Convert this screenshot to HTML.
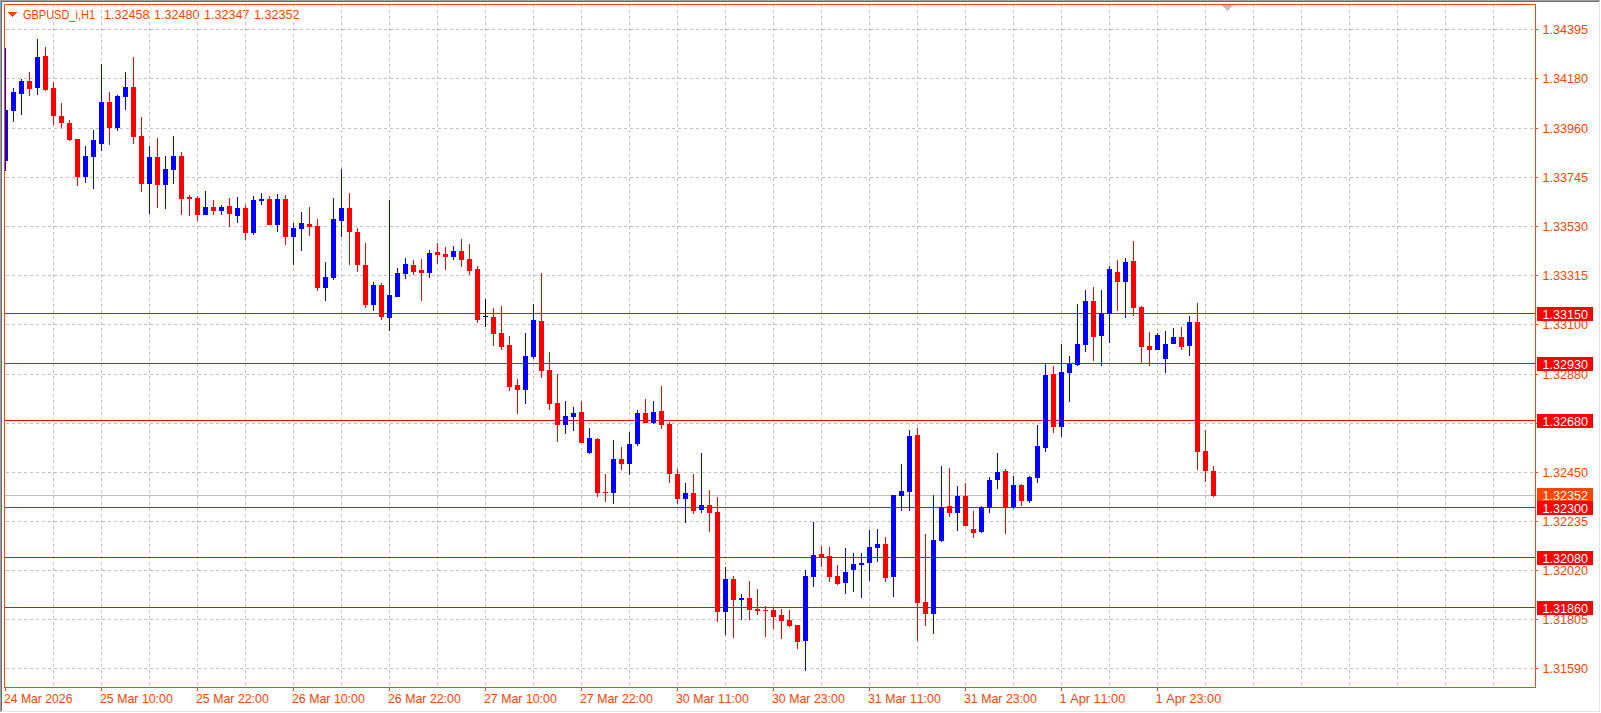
<!DOCTYPE html>
<html><head><meta charset="utf-8"><title>GBPUSD_i,H1</title>
<style>
html,body{margin:0;padding:0;background:#fff;width:1601px;height:713px;overflow:hidden}
svg{display:block}
text{font-family:"Liberation Sans",sans-serif;font-kerning:none}
</style></head><body>
<svg width="1601" height="713" viewBox="0 0 1601 713">
<rect x="0" y="0" width="1601" height="713" fill="#ffffff"/>
<g shape-rendering="crispEdges">
<svg x="5" y="5" width="1530" height="682" viewBox="5 5 1530 682" overflow="hidden">
<path d="M8 12H17L12.5 17Z" fill="#ff4500"/>
<text x="23" y="19" fill="#ff4500" font-size="12.2" textLength="72" lengthAdjust="spacingAndGlyphs">GBPUSD_i,H1</text>
<text x="104" y="19" fill="#ff4500" font-size="12.2" textLength="45.5" lengthAdjust="spacingAndGlyphs">1.32458</text>
<text x="154" y="19" fill="#ff4500" font-size="12.2" textLength="45.5" lengthAdjust="spacingAndGlyphs">1.32480</text>
<text x="204" y="19" fill="#ff4500" font-size="12.2" textLength="45.5" lengthAdjust="spacingAndGlyphs">1.32347</text>
<text x="254" y="19" fill="#ff4500" font-size="12.2" textLength="45.5" lengthAdjust="spacingAndGlyphs">1.32352</text>
<path d="M6 29.5H9M12 29.5H15M18 29.5H21M24 29.5H27M30 29.5H33M36 29.5H39M42 29.5H45M48 29.5H51M54 29.5H57M60 29.5H63M66 29.5H69M72 29.5H75M78 29.5H81M84 29.5H87M90 29.5H93M96 29.5H99M102 29.5H105M108 29.5H111M114 29.5H117M120 29.5H123M126 29.5H129M132 29.5H135M138 29.5H141M144 29.5H147M150 29.5H153M156 29.5H159M162 29.5H165M168 29.5H171M174 29.5H177M180 29.5H183M186 29.5H189M192 29.5H195M198 29.5H201M204 29.5H207M210 29.5H213M216 29.5H219M222 29.5H225M228 29.5H231M234 29.5H237M240 29.5H243M246 29.5H249M252 29.5H255M258 29.5H261M264 29.5H267M270 29.5H273M276 29.5H279M282 29.5H285M288 29.5H291M294 29.5H297M300 29.5H303M306 29.5H309M312 29.5H315M318 29.5H321M324 29.5H327M330 29.5H333M336 29.5H339M342 29.5H345M348 29.5H351M354 29.5H357M360 29.5H363M366 29.5H369M372 29.5H375M378 29.5H381M384 29.5H387M390 29.5H393M396 29.5H399M402 29.5H405M408 29.5H411M414 29.5H417M420 29.5H423M426 29.5H429M432 29.5H435M438 29.5H441M444 29.5H447M450 29.5H453M456 29.5H459M462 29.5H465M468 29.5H471M474 29.5H477M480 29.5H483M486 29.5H489M492 29.5H495M498 29.5H501M504 29.5H507M510 29.5H513M516 29.5H519M522 29.5H525M528 29.5H531M534 29.5H537M540 29.5H543M546 29.5H549M552 29.5H555M558 29.5H561M564 29.5H567M570 29.5H573M576 29.5H579M582 29.5H585M588 29.5H591M594 29.5H597M600 29.5H603M606 29.5H609M612 29.5H615M618 29.5H621M624 29.5H627M630 29.5H633M636 29.5H639M642 29.5H645M648 29.5H651M654 29.5H657M660 29.5H663M666 29.5H669M672 29.5H675M678 29.5H681M684 29.5H687M690 29.5H693M696 29.5H699M702 29.5H705M708 29.5H711M714 29.5H717M720 29.5H723M726 29.5H729M732 29.5H735M738 29.5H741M744 29.5H747M750 29.5H753M756 29.5H759M762 29.5H765M768 29.5H771M774 29.5H777M780 29.5H783M786 29.5H789M792 29.5H795M798 29.5H801M804 29.5H807M810 29.5H813M816 29.5H819M822 29.5H825M828 29.5H831M834 29.5H837M840 29.5H843M846 29.5H849M852 29.5H855M858 29.5H861M864 29.5H867M870 29.5H873M876 29.5H879M882 29.5H885M888 29.5H891M894 29.5H897M900 29.5H903M906 29.5H909M912 29.5H915M918 29.5H921M924 29.5H927M930 29.5H933M936 29.5H939M942 29.5H945M948 29.5H951M954 29.5H957M960 29.5H963M966 29.5H969M972 29.5H975M978 29.5H981M984 29.5H987M990 29.5H993M996 29.5H999M1002 29.5H1005M1008 29.5H1011M1014 29.5H1017M1020 29.5H1023M1026 29.5H1029M1032 29.5H1035M1038 29.5H1041M1044 29.5H1047M1050 29.5H1053M1056 29.5H1059M1062 29.5H1065M1068 29.5H1071M1074 29.5H1077M1080 29.5H1083M1086 29.5H1089M1092 29.5H1095M1098 29.5H1101M1104 29.5H1107M1110 29.5H1113M1116 29.5H1119M1122 29.5H1125M1128 29.5H1131M1134 29.5H1137M1140 29.5H1143M1146 29.5H1149M1152 29.5H1155M1158 29.5H1161M1164 29.5H1167M1170 29.5H1173M1176 29.5H1179M1182 29.5H1185M1188 29.5H1191M1194 29.5H1197M1200 29.5H1203M1206 29.5H1209M1212 29.5H1215M1218 29.5H1221M1224 29.5H1227M1230 29.5H1233M1236 29.5H1239M1242 29.5H1245M1248 29.5H1251M1254 29.5H1257M1260 29.5H1263M1266 29.5H1269M1272 29.5H1275M1278 29.5H1281M1284 29.5H1287M1290 29.5H1293M1296 29.5H1299M1302 29.5H1305M1308 29.5H1311M1314 29.5H1317M1320 29.5H1323M1326 29.5H1329M1332 29.5H1335M1338 29.5H1341M1344 29.5H1347M1350 29.5H1353M1356 29.5H1359M1362 29.5H1365M1368 29.5H1371M1374 29.5H1377M1380 29.5H1383M1386 29.5H1389M1392 29.5H1395M1398 29.5H1401M1404 29.5H1407M1410 29.5H1413M1416 29.5H1419M1422 29.5H1425M1428 29.5H1431M1434 29.5H1437M1440 29.5H1443M1446 29.5H1449M1452 29.5H1455M1458 29.5H1461M1464 29.5H1467M1470 29.5H1473M1476 29.5H1479M1482 29.5H1485M1488 29.5H1491M1494 29.5H1497M1500 29.5H1503M1506 29.5H1509M1512 29.5H1515M1518 29.5H1521M1524 29.5H1527M1530 29.5H1533M6 78.5H9M12 78.5H15M18 78.5H21M24 78.5H27M30 78.5H33M36 78.5H39M42 78.5H45M48 78.5H51M54 78.5H57M60 78.5H63M66 78.5H69M72 78.5H75M78 78.5H81M84 78.5H87M90 78.5H93M96 78.5H99M102 78.5H105M108 78.5H111M114 78.5H117M120 78.5H123M126 78.5H129M132 78.5H135M138 78.5H141M144 78.5H147M150 78.5H153M156 78.5H159M162 78.5H165M168 78.5H171M174 78.5H177M180 78.5H183M186 78.5H189M192 78.5H195M198 78.5H201M204 78.5H207M210 78.5H213M216 78.5H219M222 78.5H225M228 78.5H231M234 78.5H237M240 78.5H243M246 78.5H249M252 78.5H255M258 78.5H261M264 78.5H267M270 78.5H273M276 78.5H279M282 78.5H285M288 78.5H291M294 78.5H297M300 78.5H303M306 78.5H309M312 78.5H315M318 78.5H321M324 78.5H327M330 78.5H333M336 78.5H339M342 78.5H345M348 78.5H351M354 78.5H357M360 78.5H363M366 78.5H369M372 78.5H375M378 78.5H381M384 78.5H387M390 78.5H393M396 78.5H399M402 78.5H405M408 78.5H411M414 78.5H417M420 78.5H423M426 78.5H429M432 78.5H435M438 78.5H441M444 78.5H447M450 78.5H453M456 78.5H459M462 78.5H465M468 78.5H471M474 78.5H477M480 78.5H483M486 78.5H489M492 78.5H495M498 78.5H501M504 78.5H507M510 78.5H513M516 78.5H519M522 78.5H525M528 78.5H531M534 78.5H537M540 78.5H543M546 78.5H549M552 78.5H555M558 78.5H561M564 78.5H567M570 78.5H573M576 78.5H579M582 78.5H585M588 78.5H591M594 78.5H597M600 78.5H603M606 78.5H609M612 78.5H615M618 78.5H621M624 78.5H627M630 78.5H633M636 78.5H639M642 78.5H645M648 78.5H651M654 78.5H657M660 78.5H663M666 78.5H669M672 78.5H675M678 78.5H681M684 78.5H687M690 78.5H693M696 78.5H699M702 78.5H705M708 78.5H711M714 78.5H717M720 78.5H723M726 78.5H729M732 78.5H735M738 78.5H741M744 78.5H747M750 78.5H753M756 78.5H759M762 78.5H765M768 78.5H771M774 78.5H777M780 78.5H783M786 78.5H789M792 78.5H795M798 78.5H801M804 78.5H807M810 78.5H813M816 78.5H819M822 78.5H825M828 78.5H831M834 78.5H837M840 78.5H843M846 78.5H849M852 78.5H855M858 78.5H861M864 78.5H867M870 78.5H873M876 78.5H879M882 78.5H885M888 78.5H891M894 78.5H897M900 78.5H903M906 78.5H909M912 78.5H915M918 78.5H921M924 78.5H927M930 78.5H933M936 78.5H939M942 78.5H945M948 78.5H951M954 78.5H957M960 78.5H963M966 78.5H969M972 78.5H975M978 78.5H981M984 78.5H987M990 78.5H993M996 78.5H999M1002 78.5H1005M1008 78.5H1011M1014 78.5H1017M1020 78.5H1023M1026 78.5H1029M1032 78.5H1035M1038 78.5H1041M1044 78.5H1047M1050 78.5H1053M1056 78.5H1059M1062 78.5H1065M1068 78.5H1071M1074 78.5H1077M1080 78.5H1083M1086 78.5H1089M1092 78.5H1095M1098 78.5H1101M1104 78.5H1107M1110 78.5H1113M1116 78.5H1119M1122 78.5H1125M1128 78.5H1131M1134 78.5H1137M1140 78.5H1143M1146 78.5H1149M1152 78.5H1155M1158 78.5H1161M1164 78.5H1167M1170 78.5H1173M1176 78.5H1179M1182 78.5H1185M1188 78.5H1191M1194 78.5H1197M1200 78.5H1203M1206 78.5H1209M1212 78.5H1215M1218 78.5H1221M1224 78.5H1227M1230 78.5H1233M1236 78.5H1239M1242 78.5H1245M1248 78.5H1251M1254 78.5H1257M1260 78.5H1263M1266 78.5H1269M1272 78.5H1275M1278 78.5H1281M1284 78.5H1287M1290 78.5H1293M1296 78.5H1299M1302 78.5H1305M1308 78.5H1311M1314 78.5H1317M1320 78.5H1323M1326 78.5H1329M1332 78.5H1335M1338 78.5H1341M1344 78.5H1347M1350 78.5H1353M1356 78.5H1359M1362 78.5H1365M1368 78.5H1371M1374 78.5H1377M1380 78.5H1383M1386 78.5H1389M1392 78.5H1395M1398 78.5H1401M1404 78.5H1407M1410 78.5H1413M1416 78.5H1419M1422 78.5H1425M1428 78.5H1431M1434 78.5H1437M1440 78.5H1443M1446 78.5H1449M1452 78.5H1455M1458 78.5H1461M1464 78.5H1467M1470 78.5H1473M1476 78.5H1479M1482 78.5H1485M1488 78.5H1491M1494 78.5H1497M1500 78.5H1503M1506 78.5H1509M1512 78.5H1515M1518 78.5H1521M1524 78.5H1527M1530 78.5H1533M6 128.5H9M12 128.5H15M18 128.5H21M24 128.5H27M30 128.5H33M36 128.5H39M42 128.5H45M48 128.5H51M54 128.5H57M60 128.5H63M66 128.5H69M72 128.5H75M78 128.5H81M84 128.5H87M90 128.5H93M96 128.5H99M102 128.5H105M108 128.5H111M114 128.5H117M120 128.5H123M126 128.5H129M132 128.5H135M138 128.5H141M144 128.5H147M150 128.5H153M156 128.5H159M162 128.5H165M168 128.5H171M174 128.5H177M180 128.5H183M186 128.5H189M192 128.5H195M198 128.5H201M204 128.5H207M210 128.5H213M216 128.5H219M222 128.5H225M228 128.5H231M234 128.5H237M240 128.5H243M246 128.5H249M252 128.5H255M258 128.5H261M264 128.5H267M270 128.5H273M276 128.5H279M282 128.5H285M288 128.5H291M294 128.5H297M300 128.5H303M306 128.5H309M312 128.5H315M318 128.5H321M324 128.5H327M330 128.5H333M336 128.5H339M342 128.5H345M348 128.5H351M354 128.5H357M360 128.5H363M366 128.5H369M372 128.5H375M378 128.5H381M384 128.5H387M390 128.5H393M396 128.5H399M402 128.5H405M408 128.5H411M414 128.5H417M420 128.5H423M426 128.5H429M432 128.5H435M438 128.5H441M444 128.5H447M450 128.5H453M456 128.5H459M462 128.5H465M468 128.5H471M474 128.5H477M480 128.5H483M486 128.5H489M492 128.5H495M498 128.5H501M504 128.5H507M510 128.5H513M516 128.5H519M522 128.5H525M528 128.5H531M534 128.5H537M540 128.5H543M546 128.5H549M552 128.5H555M558 128.5H561M564 128.5H567M570 128.5H573M576 128.5H579M582 128.5H585M588 128.5H591M594 128.5H597M600 128.5H603M606 128.5H609M612 128.5H615M618 128.5H621M624 128.5H627M630 128.5H633M636 128.5H639M642 128.5H645M648 128.5H651M654 128.5H657M660 128.5H663M666 128.5H669M672 128.5H675M678 128.5H681M684 128.5H687M690 128.5H693M696 128.5H699M702 128.5H705M708 128.5H711M714 128.5H717M720 128.5H723M726 128.5H729M732 128.5H735M738 128.5H741M744 128.5H747M750 128.5H753M756 128.5H759M762 128.5H765M768 128.5H771M774 128.5H777M780 128.5H783M786 128.5H789M792 128.5H795M798 128.5H801M804 128.5H807M810 128.5H813M816 128.5H819M822 128.5H825M828 128.5H831M834 128.5H837M840 128.5H843M846 128.5H849M852 128.5H855M858 128.5H861M864 128.5H867M870 128.5H873M876 128.5H879M882 128.5H885M888 128.5H891M894 128.5H897M900 128.5H903M906 128.5H909M912 128.5H915M918 128.5H921M924 128.5H927M930 128.5H933M936 128.5H939M942 128.5H945M948 128.5H951M954 128.5H957M960 128.5H963M966 128.5H969M972 128.5H975M978 128.5H981M984 128.5H987M990 128.5H993M996 128.5H999M1002 128.5H1005M1008 128.5H1011M1014 128.5H1017M1020 128.5H1023M1026 128.5H1029M1032 128.5H1035M1038 128.5H1041M1044 128.5H1047M1050 128.5H1053M1056 128.5H1059M1062 128.5H1065M1068 128.5H1071M1074 128.5H1077M1080 128.5H1083M1086 128.5H1089M1092 128.5H1095M1098 128.5H1101M1104 128.5H1107M1110 128.5H1113M1116 128.5H1119M1122 128.5H1125M1128 128.5H1131M1134 128.5H1137M1140 128.5H1143M1146 128.5H1149M1152 128.5H1155M1158 128.5H1161M1164 128.5H1167M1170 128.5H1173M1176 128.5H1179M1182 128.5H1185M1188 128.5H1191M1194 128.5H1197M1200 128.5H1203M1206 128.5H1209M1212 128.5H1215M1218 128.5H1221M1224 128.5H1227M1230 128.5H1233M1236 128.5H1239M1242 128.5H1245M1248 128.5H1251M1254 128.5H1257M1260 128.5H1263M1266 128.5H1269M1272 128.5H1275M1278 128.5H1281M1284 128.5H1287M1290 128.5H1293M1296 128.5H1299M1302 128.5H1305M1308 128.5H1311M1314 128.5H1317M1320 128.5H1323M1326 128.5H1329M1332 128.5H1335M1338 128.5H1341M1344 128.5H1347M1350 128.5H1353M1356 128.5H1359M1362 128.5H1365M1368 128.5H1371M1374 128.5H1377M1380 128.5H1383M1386 128.5H1389M1392 128.5H1395M1398 128.5H1401M1404 128.5H1407M1410 128.5H1413M1416 128.5H1419M1422 128.5H1425M1428 128.5H1431M1434 128.5H1437M1440 128.5H1443M1446 128.5H1449M1452 128.5H1455M1458 128.5H1461M1464 128.5H1467M1470 128.5H1473M1476 128.5H1479M1482 128.5H1485M1488 128.5H1491M1494 128.5H1497M1500 128.5H1503M1506 128.5H1509M1512 128.5H1515M1518 128.5H1521M1524 128.5H1527M1530 128.5H1533M6 177.5H9M12 177.5H15M18 177.5H21M24 177.5H27M30 177.5H33M36 177.5H39M42 177.5H45M48 177.5H51M54 177.5H57M60 177.5H63M66 177.5H69M72 177.5H75M78 177.5H81M84 177.5H87M90 177.5H93M96 177.5H99M102 177.5H105M108 177.5H111M114 177.5H117M120 177.5H123M126 177.5H129M132 177.5H135M138 177.5H141M144 177.5H147M150 177.5H153M156 177.5H159M162 177.5H165M168 177.5H171M174 177.5H177M180 177.5H183M186 177.5H189M192 177.5H195M198 177.5H201M204 177.5H207M210 177.5H213M216 177.5H219M222 177.5H225M228 177.5H231M234 177.5H237M240 177.5H243M246 177.5H249M252 177.5H255M258 177.5H261M264 177.5H267M270 177.5H273M276 177.5H279M282 177.5H285M288 177.5H291M294 177.5H297M300 177.5H303M306 177.5H309M312 177.5H315M318 177.5H321M324 177.5H327M330 177.5H333M336 177.5H339M342 177.5H345M348 177.5H351M354 177.5H357M360 177.5H363M366 177.5H369M372 177.5H375M378 177.5H381M384 177.5H387M390 177.5H393M396 177.5H399M402 177.5H405M408 177.5H411M414 177.5H417M420 177.5H423M426 177.5H429M432 177.5H435M438 177.5H441M444 177.5H447M450 177.5H453M456 177.5H459M462 177.5H465M468 177.5H471M474 177.5H477M480 177.5H483M486 177.5H489M492 177.5H495M498 177.5H501M504 177.5H507M510 177.5H513M516 177.5H519M522 177.5H525M528 177.5H531M534 177.5H537M540 177.5H543M546 177.5H549M552 177.5H555M558 177.5H561M564 177.5H567M570 177.5H573M576 177.5H579M582 177.5H585M588 177.5H591M594 177.5H597M600 177.5H603M606 177.5H609M612 177.5H615M618 177.5H621M624 177.5H627M630 177.5H633M636 177.5H639M642 177.5H645M648 177.5H651M654 177.5H657M660 177.5H663M666 177.5H669M672 177.5H675M678 177.5H681M684 177.5H687M690 177.5H693M696 177.5H699M702 177.5H705M708 177.5H711M714 177.5H717M720 177.5H723M726 177.5H729M732 177.5H735M738 177.5H741M744 177.5H747M750 177.5H753M756 177.5H759M762 177.5H765M768 177.5H771M774 177.5H777M780 177.5H783M786 177.5H789M792 177.5H795M798 177.5H801M804 177.5H807M810 177.5H813M816 177.5H819M822 177.5H825M828 177.5H831M834 177.5H837M840 177.5H843M846 177.5H849M852 177.5H855M858 177.5H861M864 177.5H867M870 177.5H873M876 177.5H879M882 177.5H885M888 177.5H891M894 177.5H897M900 177.5H903M906 177.5H909M912 177.5H915M918 177.5H921M924 177.5H927M930 177.5H933M936 177.5H939M942 177.5H945M948 177.5H951M954 177.5H957M960 177.5H963M966 177.5H969M972 177.5H975M978 177.5H981M984 177.5H987M990 177.5H993M996 177.5H999M1002 177.5H1005M1008 177.5H1011M1014 177.5H1017M1020 177.5H1023M1026 177.5H1029M1032 177.5H1035M1038 177.5H1041M1044 177.5H1047M1050 177.5H1053M1056 177.5H1059M1062 177.5H1065M1068 177.5H1071M1074 177.5H1077M1080 177.5H1083M1086 177.5H1089M1092 177.5H1095M1098 177.5H1101M1104 177.5H1107M1110 177.5H1113M1116 177.5H1119M1122 177.5H1125M1128 177.5H1131M1134 177.5H1137M1140 177.5H1143M1146 177.5H1149M1152 177.5H1155M1158 177.5H1161M1164 177.5H1167M1170 177.5H1173M1176 177.5H1179M1182 177.5H1185M1188 177.5H1191M1194 177.5H1197M1200 177.5H1203M1206 177.5H1209M1212 177.5H1215M1218 177.5H1221M1224 177.5H1227M1230 177.5H1233M1236 177.5H1239M1242 177.5H1245M1248 177.5H1251M1254 177.5H1257M1260 177.5H1263M1266 177.5H1269M1272 177.5H1275M1278 177.5H1281M1284 177.5H1287M1290 177.5H1293M1296 177.5H1299M1302 177.5H1305M1308 177.5H1311M1314 177.5H1317M1320 177.5H1323M1326 177.5H1329M1332 177.5H1335M1338 177.5H1341M1344 177.5H1347M1350 177.5H1353M1356 177.5H1359M1362 177.5H1365M1368 177.5H1371M1374 177.5H1377M1380 177.5H1383M1386 177.5H1389M1392 177.5H1395M1398 177.5H1401M1404 177.5H1407M1410 177.5H1413M1416 177.5H1419M1422 177.5H1425M1428 177.5H1431M1434 177.5H1437M1440 177.5H1443M1446 177.5H1449M1452 177.5H1455M1458 177.5H1461M1464 177.5H1467M1470 177.5H1473M1476 177.5H1479M1482 177.5H1485M1488 177.5H1491M1494 177.5H1497M1500 177.5H1503M1506 177.5H1509M1512 177.5H1515M1518 177.5H1521M1524 177.5H1527M1530 177.5H1533M6 226.5H9M12 226.5H15M18 226.5H21M24 226.5H27M30 226.5H33M36 226.5H39M42 226.5H45M48 226.5H51M54 226.5H57M60 226.5H63M66 226.5H69M72 226.5H75M78 226.5H81M84 226.5H87M90 226.5H93M96 226.5H99M102 226.5H105M108 226.5H111M114 226.5H117M120 226.5H123M126 226.5H129M132 226.5H135M138 226.5H141M144 226.5H147M150 226.5H153M156 226.5H159M162 226.5H165M168 226.5H171M174 226.5H177M180 226.5H183M186 226.5H189M192 226.5H195M198 226.5H201M204 226.5H207M210 226.5H213M216 226.5H219M222 226.5H225M228 226.5H231M234 226.5H237M240 226.5H243M246 226.5H249M252 226.5H255M258 226.5H261M264 226.5H267M270 226.5H273M276 226.5H279M282 226.5H285M288 226.5H291M294 226.5H297M300 226.5H303M306 226.5H309M312 226.5H315M318 226.5H321M324 226.5H327M330 226.5H333M336 226.5H339M342 226.5H345M348 226.5H351M354 226.5H357M360 226.5H363M366 226.5H369M372 226.5H375M378 226.5H381M384 226.5H387M390 226.5H393M396 226.5H399M402 226.5H405M408 226.5H411M414 226.5H417M420 226.5H423M426 226.5H429M432 226.5H435M438 226.5H441M444 226.5H447M450 226.5H453M456 226.5H459M462 226.5H465M468 226.5H471M474 226.5H477M480 226.5H483M486 226.5H489M492 226.5H495M498 226.5H501M504 226.5H507M510 226.5H513M516 226.5H519M522 226.5H525M528 226.5H531M534 226.5H537M540 226.5H543M546 226.5H549M552 226.5H555M558 226.5H561M564 226.5H567M570 226.5H573M576 226.5H579M582 226.5H585M588 226.5H591M594 226.5H597M600 226.5H603M606 226.5H609M612 226.5H615M618 226.5H621M624 226.5H627M630 226.5H633M636 226.5H639M642 226.5H645M648 226.5H651M654 226.5H657M660 226.5H663M666 226.5H669M672 226.5H675M678 226.5H681M684 226.5H687M690 226.5H693M696 226.5H699M702 226.5H705M708 226.5H711M714 226.5H717M720 226.5H723M726 226.5H729M732 226.5H735M738 226.5H741M744 226.5H747M750 226.5H753M756 226.5H759M762 226.5H765M768 226.5H771M774 226.5H777M780 226.5H783M786 226.5H789M792 226.5H795M798 226.5H801M804 226.5H807M810 226.5H813M816 226.5H819M822 226.5H825M828 226.5H831M834 226.5H837M840 226.5H843M846 226.5H849M852 226.5H855M858 226.5H861M864 226.5H867M870 226.5H873M876 226.5H879M882 226.5H885M888 226.5H891M894 226.5H897M900 226.5H903M906 226.5H909M912 226.5H915M918 226.5H921M924 226.5H927M930 226.5H933M936 226.5H939M942 226.5H945M948 226.5H951M954 226.5H957M960 226.5H963M966 226.5H969M972 226.5H975M978 226.5H981M984 226.5H987M990 226.5H993M996 226.5H999M1002 226.5H1005M1008 226.5H1011M1014 226.5H1017M1020 226.5H1023M1026 226.5H1029M1032 226.5H1035M1038 226.5H1041M1044 226.5H1047M1050 226.5H1053M1056 226.5H1059M1062 226.5H1065M1068 226.5H1071M1074 226.5H1077M1080 226.5H1083M1086 226.5H1089M1092 226.5H1095M1098 226.5H1101M1104 226.5H1107M1110 226.5H1113M1116 226.5H1119M1122 226.5H1125M1128 226.5H1131M1134 226.5H1137M1140 226.5H1143M1146 226.5H1149M1152 226.5H1155M1158 226.5H1161M1164 226.5H1167M1170 226.5H1173M1176 226.5H1179M1182 226.5H1185M1188 226.5H1191M1194 226.5H1197M1200 226.5H1203M1206 226.5H1209M1212 226.5H1215M1218 226.5H1221M1224 226.5H1227M1230 226.5H1233M1236 226.5H1239M1242 226.5H1245M1248 226.5H1251M1254 226.5H1257M1260 226.5H1263M1266 226.5H1269M1272 226.5H1275M1278 226.5H1281M1284 226.5H1287M1290 226.5H1293M1296 226.5H1299M1302 226.5H1305M1308 226.5H1311M1314 226.5H1317M1320 226.5H1323M1326 226.5H1329M1332 226.5H1335M1338 226.5H1341M1344 226.5H1347M1350 226.5H1353M1356 226.5H1359M1362 226.5H1365M1368 226.5H1371M1374 226.5H1377M1380 226.5H1383M1386 226.5H1389M1392 226.5H1395M1398 226.5H1401M1404 226.5H1407M1410 226.5H1413M1416 226.5H1419M1422 226.5H1425M1428 226.5H1431M1434 226.5H1437M1440 226.5H1443M1446 226.5H1449M1452 226.5H1455M1458 226.5H1461M1464 226.5H1467M1470 226.5H1473M1476 226.5H1479M1482 226.5H1485M1488 226.5H1491M1494 226.5H1497M1500 226.5H1503M1506 226.5H1509M1512 226.5H1515M1518 226.5H1521M1524 226.5H1527M1530 226.5H1533M6 275.5H9M12 275.5H15M18 275.5H21M24 275.5H27M30 275.5H33M36 275.5H39M42 275.5H45M48 275.5H51M54 275.5H57M60 275.5H63M66 275.5H69M72 275.5H75M78 275.5H81M84 275.5H87M90 275.5H93M96 275.5H99M102 275.5H105M108 275.5H111M114 275.5H117M120 275.5H123M126 275.5H129M132 275.5H135M138 275.5H141M144 275.5H147M150 275.5H153M156 275.5H159M162 275.5H165M168 275.5H171M174 275.5H177M180 275.5H183M186 275.5H189M192 275.5H195M198 275.5H201M204 275.5H207M210 275.5H213M216 275.5H219M222 275.5H225M228 275.5H231M234 275.5H237M240 275.5H243M246 275.5H249M252 275.5H255M258 275.5H261M264 275.5H267M270 275.5H273M276 275.5H279M282 275.5H285M288 275.5H291M294 275.5H297M300 275.5H303M306 275.5H309M312 275.5H315M318 275.5H321M324 275.5H327M330 275.5H333M336 275.5H339M342 275.5H345M348 275.5H351M354 275.5H357M360 275.5H363M366 275.5H369M372 275.5H375M378 275.5H381M384 275.5H387M390 275.5H393M396 275.5H399M402 275.5H405M408 275.5H411M414 275.5H417M420 275.5H423M426 275.5H429M432 275.5H435M438 275.5H441M444 275.5H447M450 275.5H453M456 275.5H459M462 275.5H465M468 275.5H471M474 275.5H477M480 275.5H483M486 275.5H489M492 275.5H495M498 275.5H501M504 275.5H507M510 275.5H513M516 275.5H519M522 275.5H525M528 275.5H531M534 275.5H537M540 275.5H543M546 275.5H549M552 275.5H555M558 275.5H561M564 275.5H567M570 275.5H573M576 275.5H579M582 275.5H585M588 275.5H591M594 275.5H597M600 275.5H603M606 275.5H609M612 275.5H615M618 275.5H621M624 275.5H627M630 275.5H633M636 275.5H639M642 275.5H645M648 275.5H651M654 275.5H657M660 275.5H663M666 275.5H669M672 275.5H675M678 275.5H681M684 275.5H687M690 275.5H693M696 275.5H699M702 275.5H705M708 275.5H711M714 275.5H717M720 275.5H723M726 275.5H729M732 275.5H735M738 275.5H741M744 275.5H747M750 275.5H753M756 275.5H759M762 275.5H765M768 275.5H771M774 275.5H777M780 275.5H783M786 275.5H789M792 275.5H795M798 275.5H801M804 275.5H807M810 275.5H813M816 275.5H819M822 275.5H825M828 275.5H831M834 275.5H837M840 275.5H843M846 275.5H849M852 275.5H855M858 275.5H861M864 275.5H867M870 275.5H873M876 275.5H879M882 275.5H885M888 275.5H891M894 275.5H897M900 275.5H903M906 275.5H909M912 275.5H915M918 275.5H921M924 275.5H927M930 275.5H933M936 275.5H939M942 275.5H945M948 275.5H951M954 275.5H957M960 275.5H963M966 275.5H969M972 275.5H975M978 275.5H981M984 275.5H987M990 275.5H993M996 275.5H999M1002 275.5H1005M1008 275.5H1011M1014 275.5H1017M1020 275.5H1023M1026 275.5H1029M1032 275.5H1035M1038 275.5H1041M1044 275.5H1047M1050 275.5H1053M1056 275.5H1059M1062 275.5H1065M1068 275.5H1071M1074 275.5H1077M1080 275.5H1083M1086 275.5H1089M1092 275.5H1095M1098 275.5H1101M1104 275.5H1107M1110 275.5H1113M1116 275.5H1119M1122 275.5H1125M1128 275.5H1131M1134 275.5H1137M1140 275.5H1143M1146 275.5H1149M1152 275.5H1155M1158 275.5H1161M1164 275.5H1167M1170 275.5H1173M1176 275.5H1179M1182 275.5H1185M1188 275.5H1191M1194 275.5H1197M1200 275.5H1203M1206 275.5H1209M1212 275.5H1215M1218 275.5H1221M1224 275.5H1227M1230 275.5H1233M1236 275.5H1239M1242 275.5H1245M1248 275.5H1251M1254 275.5H1257M1260 275.5H1263M1266 275.5H1269M1272 275.5H1275M1278 275.5H1281M1284 275.5H1287M1290 275.5H1293M1296 275.5H1299M1302 275.5H1305M1308 275.5H1311M1314 275.5H1317M1320 275.5H1323M1326 275.5H1329M1332 275.5H1335M1338 275.5H1341M1344 275.5H1347M1350 275.5H1353M1356 275.5H1359M1362 275.5H1365M1368 275.5H1371M1374 275.5H1377M1380 275.5H1383M1386 275.5H1389M1392 275.5H1395M1398 275.5H1401M1404 275.5H1407M1410 275.5H1413M1416 275.5H1419M1422 275.5H1425M1428 275.5H1431M1434 275.5H1437M1440 275.5H1443M1446 275.5H1449M1452 275.5H1455M1458 275.5H1461M1464 275.5H1467M1470 275.5H1473M1476 275.5H1479M1482 275.5H1485M1488 275.5H1491M1494 275.5H1497M1500 275.5H1503M1506 275.5H1509M1512 275.5H1515M1518 275.5H1521M1524 275.5H1527M1530 275.5H1533M6 324.5H9M12 324.5H15M18 324.5H21M24 324.5H27M30 324.5H33M36 324.5H39M42 324.5H45M48 324.5H51M54 324.5H57M60 324.5H63M66 324.5H69M72 324.5H75M78 324.5H81M84 324.5H87M90 324.5H93M96 324.5H99M102 324.5H105M108 324.5H111M114 324.5H117M120 324.5H123M126 324.5H129M132 324.5H135M138 324.5H141M144 324.5H147M150 324.5H153M156 324.5H159M162 324.5H165M168 324.5H171M174 324.5H177M180 324.5H183M186 324.5H189M192 324.5H195M198 324.5H201M204 324.5H207M210 324.5H213M216 324.5H219M222 324.5H225M228 324.5H231M234 324.5H237M240 324.5H243M246 324.5H249M252 324.5H255M258 324.5H261M264 324.5H267M270 324.5H273M276 324.5H279M282 324.5H285M288 324.5H291M294 324.5H297M300 324.5H303M306 324.5H309M312 324.5H315M318 324.5H321M324 324.5H327M330 324.5H333M336 324.5H339M342 324.5H345M348 324.5H351M354 324.5H357M360 324.5H363M366 324.5H369M372 324.5H375M378 324.5H381M384 324.5H387M390 324.5H393M396 324.5H399M402 324.5H405M408 324.5H411M414 324.5H417M420 324.5H423M426 324.5H429M432 324.5H435M438 324.5H441M444 324.5H447M450 324.5H453M456 324.5H459M462 324.5H465M468 324.5H471M474 324.5H477M480 324.5H483M486 324.5H489M492 324.5H495M498 324.5H501M504 324.5H507M510 324.5H513M516 324.5H519M522 324.5H525M528 324.5H531M534 324.5H537M540 324.5H543M546 324.5H549M552 324.5H555M558 324.5H561M564 324.5H567M570 324.5H573M576 324.5H579M582 324.5H585M588 324.5H591M594 324.5H597M600 324.5H603M606 324.5H609M612 324.5H615M618 324.5H621M624 324.5H627M630 324.5H633M636 324.5H639M642 324.5H645M648 324.5H651M654 324.5H657M660 324.5H663M666 324.5H669M672 324.5H675M678 324.5H681M684 324.5H687M690 324.5H693M696 324.5H699M702 324.5H705M708 324.5H711M714 324.5H717M720 324.5H723M726 324.5H729M732 324.5H735M738 324.5H741M744 324.5H747M750 324.5H753M756 324.5H759M762 324.5H765M768 324.5H771M774 324.5H777M780 324.5H783M786 324.5H789M792 324.5H795M798 324.5H801M804 324.5H807M810 324.5H813M816 324.5H819M822 324.5H825M828 324.5H831M834 324.5H837M840 324.5H843M846 324.5H849M852 324.5H855M858 324.5H861M864 324.5H867M870 324.5H873M876 324.5H879M882 324.5H885M888 324.5H891M894 324.5H897M900 324.5H903M906 324.5H909M912 324.5H915M918 324.5H921M924 324.5H927M930 324.5H933M936 324.5H939M942 324.5H945M948 324.5H951M954 324.5H957M960 324.5H963M966 324.5H969M972 324.5H975M978 324.5H981M984 324.5H987M990 324.5H993M996 324.5H999M1002 324.5H1005M1008 324.5H1011M1014 324.5H1017M1020 324.5H1023M1026 324.5H1029M1032 324.5H1035M1038 324.5H1041M1044 324.5H1047M1050 324.5H1053M1056 324.5H1059M1062 324.5H1065M1068 324.5H1071M1074 324.5H1077M1080 324.5H1083M1086 324.5H1089M1092 324.5H1095M1098 324.5H1101M1104 324.5H1107M1110 324.5H1113M1116 324.5H1119M1122 324.5H1125M1128 324.5H1131M1134 324.5H1137M1140 324.5H1143M1146 324.5H1149M1152 324.5H1155M1158 324.5H1161M1164 324.5H1167M1170 324.5H1173M1176 324.5H1179M1182 324.5H1185M1188 324.5H1191M1194 324.5H1197M1200 324.5H1203M1206 324.5H1209M1212 324.5H1215M1218 324.5H1221M1224 324.5H1227M1230 324.5H1233M1236 324.5H1239M1242 324.5H1245M1248 324.5H1251M1254 324.5H1257M1260 324.5H1263M1266 324.5H1269M1272 324.5H1275M1278 324.5H1281M1284 324.5H1287M1290 324.5H1293M1296 324.5H1299M1302 324.5H1305M1308 324.5H1311M1314 324.5H1317M1320 324.5H1323M1326 324.5H1329M1332 324.5H1335M1338 324.5H1341M1344 324.5H1347M1350 324.5H1353M1356 324.5H1359M1362 324.5H1365M1368 324.5H1371M1374 324.5H1377M1380 324.5H1383M1386 324.5H1389M1392 324.5H1395M1398 324.5H1401M1404 324.5H1407M1410 324.5H1413M1416 324.5H1419M1422 324.5H1425M1428 324.5H1431M1434 324.5H1437M1440 324.5H1443M1446 324.5H1449M1452 324.5H1455M1458 324.5H1461M1464 324.5H1467M1470 324.5H1473M1476 324.5H1479M1482 324.5H1485M1488 324.5H1491M1494 324.5H1497M1500 324.5H1503M1506 324.5H1509M1512 324.5H1515M1518 324.5H1521M1524 324.5H1527M1530 324.5H1533M6 374.5H9M12 374.5H15M18 374.5H21M24 374.5H27M30 374.5H33M36 374.5H39M42 374.5H45M48 374.5H51M54 374.5H57M60 374.5H63M66 374.5H69M72 374.5H75M78 374.5H81M84 374.5H87M90 374.5H93M96 374.5H99M102 374.5H105M108 374.5H111M114 374.5H117M120 374.5H123M126 374.5H129M132 374.5H135M138 374.5H141M144 374.5H147M150 374.5H153M156 374.5H159M162 374.5H165M168 374.5H171M174 374.5H177M180 374.5H183M186 374.5H189M192 374.5H195M198 374.5H201M204 374.5H207M210 374.5H213M216 374.5H219M222 374.5H225M228 374.5H231M234 374.5H237M240 374.5H243M246 374.5H249M252 374.5H255M258 374.5H261M264 374.5H267M270 374.5H273M276 374.5H279M282 374.5H285M288 374.5H291M294 374.5H297M300 374.5H303M306 374.5H309M312 374.5H315M318 374.5H321M324 374.5H327M330 374.5H333M336 374.5H339M342 374.5H345M348 374.5H351M354 374.5H357M360 374.5H363M366 374.5H369M372 374.5H375M378 374.5H381M384 374.5H387M390 374.5H393M396 374.5H399M402 374.5H405M408 374.5H411M414 374.5H417M420 374.5H423M426 374.5H429M432 374.5H435M438 374.5H441M444 374.5H447M450 374.5H453M456 374.5H459M462 374.5H465M468 374.5H471M474 374.5H477M480 374.5H483M486 374.5H489M492 374.5H495M498 374.5H501M504 374.5H507M510 374.5H513M516 374.5H519M522 374.5H525M528 374.5H531M534 374.5H537M540 374.5H543M546 374.5H549M552 374.5H555M558 374.5H561M564 374.5H567M570 374.5H573M576 374.5H579M582 374.5H585M588 374.5H591M594 374.5H597M600 374.5H603M606 374.5H609M612 374.5H615M618 374.5H621M624 374.5H627M630 374.5H633M636 374.5H639M642 374.5H645M648 374.5H651M654 374.5H657M660 374.5H663M666 374.5H669M672 374.5H675M678 374.5H681M684 374.5H687M690 374.5H693M696 374.5H699M702 374.5H705M708 374.5H711M714 374.5H717M720 374.5H723M726 374.5H729M732 374.5H735M738 374.5H741M744 374.5H747M750 374.5H753M756 374.5H759M762 374.5H765M768 374.5H771M774 374.5H777M780 374.5H783M786 374.5H789M792 374.5H795M798 374.5H801M804 374.5H807M810 374.5H813M816 374.5H819M822 374.5H825M828 374.5H831M834 374.5H837M840 374.5H843M846 374.5H849M852 374.5H855M858 374.5H861M864 374.5H867M870 374.5H873M876 374.5H879M882 374.5H885M888 374.5H891M894 374.5H897M900 374.5H903M906 374.5H909M912 374.5H915M918 374.5H921M924 374.5H927M930 374.5H933M936 374.5H939M942 374.5H945M948 374.5H951M954 374.5H957M960 374.5H963M966 374.5H969M972 374.5H975M978 374.5H981M984 374.5H987M990 374.5H993M996 374.5H999M1002 374.5H1005M1008 374.5H1011M1014 374.5H1017M1020 374.5H1023M1026 374.5H1029M1032 374.5H1035M1038 374.5H1041M1044 374.5H1047M1050 374.5H1053M1056 374.5H1059M1062 374.5H1065M1068 374.5H1071M1074 374.5H1077M1080 374.5H1083M1086 374.5H1089M1092 374.5H1095M1098 374.5H1101M1104 374.5H1107M1110 374.5H1113M1116 374.5H1119M1122 374.5H1125M1128 374.5H1131M1134 374.5H1137M1140 374.5H1143M1146 374.5H1149M1152 374.5H1155M1158 374.5H1161M1164 374.5H1167M1170 374.5H1173M1176 374.5H1179M1182 374.5H1185M1188 374.5H1191M1194 374.5H1197M1200 374.5H1203M1206 374.5H1209M1212 374.5H1215M1218 374.5H1221M1224 374.5H1227M1230 374.5H1233M1236 374.5H1239M1242 374.5H1245M1248 374.5H1251M1254 374.5H1257M1260 374.5H1263M1266 374.5H1269M1272 374.5H1275M1278 374.5H1281M1284 374.5H1287M1290 374.5H1293M1296 374.5H1299M1302 374.5H1305M1308 374.5H1311M1314 374.5H1317M1320 374.5H1323M1326 374.5H1329M1332 374.5H1335M1338 374.5H1341M1344 374.5H1347M1350 374.5H1353M1356 374.5H1359M1362 374.5H1365M1368 374.5H1371M1374 374.5H1377M1380 374.5H1383M1386 374.5H1389M1392 374.5H1395M1398 374.5H1401M1404 374.5H1407M1410 374.5H1413M1416 374.5H1419M1422 374.5H1425M1428 374.5H1431M1434 374.5H1437M1440 374.5H1443M1446 374.5H1449M1452 374.5H1455M1458 374.5H1461M1464 374.5H1467M1470 374.5H1473M1476 374.5H1479M1482 374.5H1485M1488 374.5H1491M1494 374.5H1497M1500 374.5H1503M1506 374.5H1509M1512 374.5H1515M1518 374.5H1521M1524 374.5H1527M1530 374.5H1533M6 423.5H9M12 423.5H15M18 423.5H21M24 423.5H27M30 423.5H33M36 423.5H39M42 423.5H45M48 423.5H51M54 423.5H57M60 423.5H63M66 423.5H69M72 423.5H75M78 423.5H81M84 423.5H87M90 423.5H93M96 423.5H99M102 423.5H105M108 423.5H111M114 423.5H117M120 423.5H123M126 423.5H129M132 423.5H135M138 423.5H141M144 423.5H147M150 423.5H153M156 423.5H159M162 423.5H165M168 423.5H171M174 423.5H177M180 423.5H183M186 423.5H189M192 423.5H195M198 423.5H201M204 423.5H207M210 423.5H213M216 423.5H219M222 423.5H225M228 423.5H231M234 423.5H237M240 423.5H243M246 423.5H249M252 423.5H255M258 423.5H261M264 423.5H267M270 423.5H273M276 423.5H279M282 423.5H285M288 423.5H291M294 423.5H297M300 423.5H303M306 423.5H309M312 423.5H315M318 423.5H321M324 423.5H327M330 423.5H333M336 423.5H339M342 423.5H345M348 423.5H351M354 423.5H357M360 423.5H363M366 423.5H369M372 423.5H375M378 423.5H381M384 423.5H387M390 423.5H393M396 423.5H399M402 423.5H405M408 423.5H411M414 423.5H417M420 423.5H423M426 423.5H429M432 423.5H435M438 423.5H441M444 423.5H447M450 423.5H453M456 423.5H459M462 423.5H465M468 423.5H471M474 423.5H477M480 423.5H483M486 423.5H489M492 423.5H495M498 423.5H501M504 423.5H507M510 423.5H513M516 423.5H519M522 423.5H525M528 423.5H531M534 423.5H537M540 423.5H543M546 423.5H549M552 423.5H555M558 423.5H561M564 423.5H567M570 423.5H573M576 423.5H579M582 423.5H585M588 423.5H591M594 423.5H597M600 423.5H603M606 423.5H609M612 423.5H615M618 423.5H621M624 423.5H627M630 423.5H633M636 423.5H639M642 423.5H645M648 423.5H651M654 423.5H657M660 423.5H663M666 423.5H669M672 423.5H675M678 423.5H681M684 423.5H687M690 423.5H693M696 423.5H699M702 423.5H705M708 423.5H711M714 423.5H717M720 423.5H723M726 423.5H729M732 423.5H735M738 423.5H741M744 423.5H747M750 423.5H753M756 423.5H759M762 423.5H765M768 423.5H771M774 423.5H777M780 423.5H783M786 423.5H789M792 423.5H795M798 423.5H801M804 423.5H807M810 423.5H813M816 423.5H819M822 423.5H825M828 423.5H831M834 423.5H837M840 423.5H843M846 423.5H849M852 423.5H855M858 423.5H861M864 423.5H867M870 423.5H873M876 423.5H879M882 423.5H885M888 423.5H891M894 423.5H897M900 423.5H903M906 423.5H909M912 423.5H915M918 423.5H921M924 423.5H927M930 423.5H933M936 423.5H939M942 423.5H945M948 423.5H951M954 423.5H957M960 423.5H963M966 423.5H969M972 423.5H975M978 423.5H981M984 423.5H987M990 423.5H993M996 423.5H999M1002 423.5H1005M1008 423.5H1011M1014 423.5H1017M1020 423.5H1023M1026 423.5H1029M1032 423.5H1035M1038 423.5H1041M1044 423.5H1047M1050 423.5H1053M1056 423.5H1059M1062 423.5H1065M1068 423.5H1071M1074 423.5H1077M1080 423.5H1083M1086 423.5H1089M1092 423.5H1095M1098 423.5H1101M1104 423.5H1107M1110 423.5H1113M1116 423.5H1119M1122 423.5H1125M1128 423.5H1131M1134 423.5H1137M1140 423.5H1143M1146 423.5H1149M1152 423.5H1155M1158 423.5H1161M1164 423.5H1167M1170 423.5H1173M1176 423.5H1179M1182 423.5H1185M1188 423.5H1191M1194 423.5H1197M1200 423.5H1203M1206 423.5H1209M1212 423.5H1215M1218 423.5H1221M1224 423.5H1227M1230 423.5H1233M1236 423.5H1239M1242 423.5H1245M1248 423.5H1251M1254 423.5H1257M1260 423.5H1263M1266 423.5H1269M1272 423.5H1275M1278 423.5H1281M1284 423.5H1287M1290 423.5H1293M1296 423.5H1299M1302 423.5H1305M1308 423.5H1311M1314 423.5H1317M1320 423.5H1323M1326 423.5H1329M1332 423.5H1335M1338 423.5H1341M1344 423.5H1347M1350 423.5H1353M1356 423.5H1359M1362 423.5H1365M1368 423.5H1371M1374 423.5H1377M1380 423.5H1383M1386 423.5H1389M1392 423.5H1395M1398 423.5H1401M1404 423.5H1407M1410 423.5H1413M1416 423.5H1419M1422 423.5H1425M1428 423.5H1431M1434 423.5H1437M1440 423.5H1443M1446 423.5H1449M1452 423.5H1455M1458 423.5H1461M1464 423.5H1467M1470 423.5H1473M1476 423.5H1479M1482 423.5H1485M1488 423.5H1491M1494 423.5H1497M1500 423.5H1503M1506 423.5H1509M1512 423.5H1515M1518 423.5H1521M1524 423.5H1527M1530 423.5H1533M6 472.5H9M12 472.5H15M18 472.5H21M24 472.5H27M30 472.5H33M36 472.5H39M42 472.5H45M48 472.5H51M54 472.5H57M60 472.5H63M66 472.5H69M72 472.5H75M78 472.5H81M84 472.5H87M90 472.5H93M96 472.5H99M102 472.5H105M108 472.5H111M114 472.5H117M120 472.5H123M126 472.5H129M132 472.5H135M138 472.5H141M144 472.5H147M150 472.5H153M156 472.5H159M162 472.5H165M168 472.5H171M174 472.5H177M180 472.5H183M186 472.5H189M192 472.5H195M198 472.5H201M204 472.5H207M210 472.5H213M216 472.5H219M222 472.5H225M228 472.5H231M234 472.5H237M240 472.5H243M246 472.5H249M252 472.5H255M258 472.5H261M264 472.5H267M270 472.5H273M276 472.5H279M282 472.5H285M288 472.5H291M294 472.5H297M300 472.5H303M306 472.5H309M312 472.5H315M318 472.5H321M324 472.5H327M330 472.5H333M336 472.5H339M342 472.5H345M348 472.5H351M354 472.5H357M360 472.5H363M366 472.5H369M372 472.5H375M378 472.5H381M384 472.5H387M390 472.5H393M396 472.5H399M402 472.5H405M408 472.5H411M414 472.5H417M420 472.5H423M426 472.5H429M432 472.5H435M438 472.5H441M444 472.5H447M450 472.5H453M456 472.5H459M462 472.5H465M468 472.5H471M474 472.5H477M480 472.5H483M486 472.5H489M492 472.5H495M498 472.5H501M504 472.5H507M510 472.5H513M516 472.5H519M522 472.5H525M528 472.5H531M534 472.5H537M540 472.5H543M546 472.5H549M552 472.5H555M558 472.5H561M564 472.5H567M570 472.5H573M576 472.5H579M582 472.5H585M588 472.5H591M594 472.5H597M600 472.5H603M606 472.5H609M612 472.5H615M618 472.5H621M624 472.5H627M630 472.5H633M636 472.5H639M642 472.5H645M648 472.5H651M654 472.5H657M660 472.5H663M666 472.5H669M672 472.5H675M678 472.5H681M684 472.5H687M690 472.5H693M696 472.5H699M702 472.5H705M708 472.5H711M714 472.5H717M720 472.5H723M726 472.5H729M732 472.5H735M738 472.5H741M744 472.5H747M750 472.5H753M756 472.5H759M762 472.5H765M768 472.5H771M774 472.5H777M780 472.5H783M786 472.5H789M792 472.5H795M798 472.5H801M804 472.5H807M810 472.5H813M816 472.5H819M822 472.5H825M828 472.5H831M834 472.5H837M840 472.5H843M846 472.5H849M852 472.5H855M858 472.5H861M864 472.5H867M870 472.5H873M876 472.5H879M882 472.5H885M888 472.5H891M894 472.5H897M900 472.5H903M906 472.5H909M912 472.5H915M918 472.5H921M924 472.5H927M930 472.5H933M936 472.5H939M942 472.5H945M948 472.5H951M954 472.5H957M960 472.5H963M966 472.5H969M972 472.5H975M978 472.5H981M984 472.5H987M990 472.5H993M996 472.5H999M1002 472.5H1005M1008 472.5H1011M1014 472.5H1017M1020 472.5H1023M1026 472.5H1029M1032 472.5H1035M1038 472.5H1041M1044 472.5H1047M1050 472.5H1053M1056 472.5H1059M1062 472.5H1065M1068 472.5H1071M1074 472.5H1077M1080 472.5H1083M1086 472.5H1089M1092 472.5H1095M1098 472.5H1101M1104 472.5H1107M1110 472.5H1113M1116 472.5H1119M1122 472.5H1125M1128 472.5H1131M1134 472.5H1137M1140 472.5H1143M1146 472.5H1149M1152 472.5H1155M1158 472.5H1161M1164 472.5H1167M1170 472.5H1173M1176 472.5H1179M1182 472.5H1185M1188 472.5H1191M1194 472.5H1197M1200 472.5H1203M1206 472.5H1209M1212 472.5H1215M1218 472.5H1221M1224 472.5H1227M1230 472.5H1233M1236 472.5H1239M1242 472.5H1245M1248 472.5H1251M1254 472.5H1257M1260 472.5H1263M1266 472.5H1269M1272 472.5H1275M1278 472.5H1281M1284 472.5H1287M1290 472.5H1293M1296 472.5H1299M1302 472.5H1305M1308 472.5H1311M1314 472.5H1317M1320 472.5H1323M1326 472.5H1329M1332 472.5H1335M1338 472.5H1341M1344 472.5H1347M1350 472.5H1353M1356 472.5H1359M1362 472.5H1365M1368 472.5H1371M1374 472.5H1377M1380 472.5H1383M1386 472.5H1389M1392 472.5H1395M1398 472.5H1401M1404 472.5H1407M1410 472.5H1413M1416 472.5H1419M1422 472.5H1425M1428 472.5H1431M1434 472.5H1437M1440 472.5H1443M1446 472.5H1449M1452 472.5H1455M1458 472.5H1461M1464 472.5H1467M1470 472.5H1473M1476 472.5H1479M1482 472.5H1485M1488 472.5H1491M1494 472.5H1497M1500 472.5H1503M1506 472.5H1509M1512 472.5H1515M1518 472.5H1521M1524 472.5H1527M1530 472.5H1533M6 521.5H9M12 521.5H15M18 521.5H21M24 521.5H27M30 521.5H33M36 521.5H39M42 521.5H45M48 521.5H51M54 521.5H57M60 521.5H63M66 521.5H69M72 521.5H75M78 521.5H81M84 521.5H87M90 521.5H93M96 521.5H99M102 521.5H105M108 521.5H111M114 521.5H117M120 521.5H123M126 521.5H129M132 521.5H135M138 521.5H141M144 521.5H147M150 521.5H153M156 521.5H159M162 521.5H165M168 521.5H171M174 521.5H177M180 521.5H183M186 521.5H189M192 521.5H195M198 521.5H201M204 521.5H207M210 521.5H213M216 521.5H219M222 521.5H225M228 521.5H231M234 521.5H237M240 521.5H243M246 521.5H249M252 521.5H255M258 521.5H261M264 521.5H267M270 521.5H273M276 521.5H279M282 521.5H285M288 521.5H291M294 521.5H297M300 521.5H303M306 521.5H309M312 521.5H315M318 521.5H321M324 521.5H327M330 521.5H333M336 521.5H339M342 521.5H345M348 521.5H351M354 521.5H357M360 521.5H363M366 521.5H369M372 521.5H375M378 521.5H381M384 521.5H387M390 521.5H393M396 521.5H399M402 521.5H405M408 521.5H411M414 521.5H417M420 521.5H423M426 521.5H429M432 521.5H435M438 521.5H441M444 521.5H447M450 521.5H453M456 521.5H459M462 521.5H465M468 521.5H471M474 521.5H477M480 521.5H483M486 521.5H489M492 521.5H495M498 521.5H501M504 521.5H507M510 521.5H513M516 521.5H519M522 521.5H525M528 521.5H531M534 521.5H537M540 521.5H543M546 521.5H549M552 521.5H555M558 521.5H561M564 521.5H567M570 521.5H573M576 521.5H579M582 521.5H585M588 521.5H591M594 521.5H597M600 521.5H603M606 521.5H609M612 521.5H615M618 521.5H621M624 521.5H627M630 521.5H633M636 521.5H639M642 521.5H645M648 521.5H651M654 521.5H657M660 521.5H663M666 521.5H669M672 521.5H675M678 521.5H681M684 521.5H687M690 521.5H693M696 521.5H699M702 521.5H705M708 521.5H711M714 521.5H717M720 521.5H723M726 521.5H729M732 521.5H735M738 521.5H741M744 521.5H747M750 521.5H753M756 521.5H759M762 521.5H765M768 521.5H771M774 521.5H777M780 521.5H783M786 521.5H789M792 521.5H795M798 521.5H801M804 521.5H807M810 521.5H813M816 521.5H819M822 521.5H825M828 521.5H831M834 521.5H837M840 521.5H843M846 521.5H849M852 521.5H855M858 521.5H861M864 521.5H867M870 521.5H873M876 521.5H879M882 521.5H885M888 521.5H891M894 521.5H897M900 521.5H903M906 521.5H909M912 521.5H915M918 521.5H921M924 521.5H927M930 521.5H933M936 521.5H939M942 521.5H945M948 521.5H951M954 521.5H957M960 521.5H963M966 521.5H969M972 521.5H975M978 521.5H981M984 521.5H987M990 521.5H993M996 521.5H999M1002 521.5H1005M1008 521.5H1011M1014 521.5H1017M1020 521.5H1023M1026 521.5H1029M1032 521.5H1035M1038 521.5H1041M1044 521.5H1047M1050 521.5H1053M1056 521.5H1059M1062 521.5H1065M1068 521.5H1071M1074 521.5H1077M1080 521.5H1083M1086 521.5H1089M1092 521.5H1095M1098 521.5H1101M1104 521.5H1107M1110 521.5H1113M1116 521.5H1119M1122 521.5H1125M1128 521.5H1131M1134 521.5H1137M1140 521.5H1143M1146 521.5H1149M1152 521.5H1155M1158 521.5H1161M1164 521.5H1167M1170 521.5H1173M1176 521.5H1179M1182 521.5H1185M1188 521.5H1191M1194 521.5H1197M1200 521.5H1203M1206 521.5H1209M1212 521.5H1215M1218 521.5H1221M1224 521.5H1227M1230 521.5H1233M1236 521.5H1239M1242 521.5H1245M1248 521.5H1251M1254 521.5H1257M1260 521.5H1263M1266 521.5H1269M1272 521.5H1275M1278 521.5H1281M1284 521.5H1287M1290 521.5H1293M1296 521.5H1299M1302 521.5H1305M1308 521.5H1311M1314 521.5H1317M1320 521.5H1323M1326 521.5H1329M1332 521.5H1335M1338 521.5H1341M1344 521.5H1347M1350 521.5H1353M1356 521.5H1359M1362 521.5H1365M1368 521.5H1371M1374 521.5H1377M1380 521.5H1383M1386 521.5H1389M1392 521.5H1395M1398 521.5H1401M1404 521.5H1407M1410 521.5H1413M1416 521.5H1419M1422 521.5H1425M1428 521.5H1431M1434 521.5H1437M1440 521.5H1443M1446 521.5H1449M1452 521.5H1455M1458 521.5H1461M1464 521.5H1467M1470 521.5H1473M1476 521.5H1479M1482 521.5H1485M1488 521.5H1491M1494 521.5H1497M1500 521.5H1503M1506 521.5H1509M1512 521.5H1515M1518 521.5H1521M1524 521.5H1527M1530 521.5H1533M6 570.5H9M12 570.5H15M18 570.5H21M24 570.5H27M30 570.5H33M36 570.5H39M42 570.5H45M48 570.5H51M54 570.5H57M60 570.5H63M66 570.5H69M72 570.5H75M78 570.5H81M84 570.5H87M90 570.5H93M96 570.5H99M102 570.5H105M108 570.5H111M114 570.5H117M120 570.5H123M126 570.5H129M132 570.5H135M138 570.5H141M144 570.5H147M150 570.5H153M156 570.5H159M162 570.5H165M168 570.5H171M174 570.5H177M180 570.5H183M186 570.5H189M192 570.5H195M198 570.5H201M204 570.5H207M210 570.5H213M216 570.5H219M222 570.5H225M228 570.5H231M234 570.5H237M240 570.5H243M246 570.5H249M252 570.5H255M258 570.5H261M264 570.5H267M270 570.5H273M276 570.5H279M282 570.5H285M288 570.5H291M294 570.5H297M300 570.5H303M306 570.5H309M312 570.5H315M318 570.5H321M324 570.5H327M330 570.5H333M336 570.5H339M342 570.5H345M348 570.5H351M354 570.5H357M360 570.5H363M366 570.5H369M372 570.5H375M378 570.5H381M384 570.5H387M390 570.5H393M396 570.5H399M402 570.5H405M408 570.5H411M414 570.5H417M420 570.5H423M426 570.5H429M432 570.5H435M438 570.5H441M444 570.5H447M450 570.5H453M456 570.5H459M462 570.5H465M468 570.5H471M474 570.5H477M480 570.5H483M486 570.5H489M492 570.5H495M498 570.5H501M504 570.5H507M510 570.5H513M516 570.5H519M522 570.5H525M528 570.5H531M534 570.5H537M540 570.5H543M546 570.5H549M552 570.5H555M558 570.5H561M564 570.5H567M570 570.5H573M576 570.5H579M582 570.5H585M588 570.5H591M594 570.5H597M600 570.5H603M606 570.5H609M612 570.5H615M618 570.5H621M624 570.5H627M630 570.5H633M636 570.5H639M642 570.5H645M648 570.5H651M654 570.5H657M660 570.5H663M666 570.5H669M672 570.5H675M678 570.5H681M684 570.5H687M690 570.5H693M696 570.5H699M702 570.5H705M708 570.5H711M714 570.5H717M720 570.5H723M726 570.5H729M732 570.5H735M738 570.5H741M744 570.5H747M750 570.5H753M756 570.5H759M762 570.5H765M768 570.5H771M774 570.5H777M780 570.5H783M786 570.5H789M792 570.5H795M798 570.5H801M804 570.5H807M810 570.5H813M816 570.5H819M822 570.5H825M828 570.5H831M834 570.5H837M840 570.5H843M846 570.5H849M852 570.5H855M858 570.5H861M864 570.5H867M870 570.5H873M876 570.5H879M882 570.5H885M888 570.5H891M894 570.5H897M900 570.5H903M906 570.5H909M912 570.5H915M918 570.5H921M924 570.5H927M930 570.5H933M936 570.5H939M942 570.5H945M948 570.5H951M954 570.5H957M960 570.5H963M966 570.5H969M972 570.5H975M978 570.5H981M984 570.5H987M990 570.5H993M996 570.5H999M1002 570.5H1005M1008 570.5H1011M1014 570.5H1017M1020 570.5H1023M1026 570.5H1029M1032 570.5H1035M1038 570.5H1041M1044 570.5H1047M1050 570.5H1053M1056 570.5H1059M1062 570.5H1065M1068 570.5H1071M1074 570.5H1077M1080 570.5H1083M1086 570.5H1089M1092 570.5H1095M1098 570.5H1101M1104 570.5H1107M1110 570.5H1113M1116 570.5H1119M1122 570.5H1125M1128 570.5H1131M1134 570.5H1137M1140 570.5H1143M1146 570.5H1149M1152 570.5H1155M1158 570.5H1161M1164 570.5H1167M1170 570.5H1173M1176 570.5H1179M1182 570.5H1185M1188 570.5H1191M1194 570.5H1197M1200 570.5H1203M1206 570.5H1209M1212 570.5H1215M1218 570.5H1221M1224 570.5H1227M1230 570.5H1233M1236 570.5H1239M1242 570.5H1245M1248 570.5H1251M1254 570.5H1257M1260 570.5H1263M1266 570.5H1269M1272 570.5H1275M1278 570.5H1281M1284 570.5H1287M1290 570.5H1293M1296 570.5H1299M1302 570.5H1305M1308 570.5H1311M1314 570.5H1317M1320 570.5H1323M1326 570.5H1329M1332 570.5H1335M1338 570.5H1341M1344 570.5H1347M1350 570.5H1353M1356 570.5H1359M1362 570.5H1365M1368 570.5H1371M1374 570.5H1377M1380 570.5H1383M1386 570.5H1389M1392 570.5H1395M1398 570.5H1401M1404 570.5H1407M1410 570.5H1413M1416 570.5H1419M1422 570.5H1425M1428 570.5H1431M1434 570.5H1437M1440 570.5H1443M1446 570.5H1449M1452 570.5H1455M1458 570.5H1461M1464 570.5H1467M1470 570.5H1473M1476 570.5H1479M1482 570.5H1485M1488 570.5H1491M1494 570.5H1497M1500 570.5H1503M1506 570.5H1509M1512 570.5H1515M1518 570.5H1521M1524 570.5H1527M1530 570.5H1533M6 619.5H9M12 619.5H15M18 619.5H21M24 619.5H27M30 619.5H33M36 619.5H39M42 619.5H45M48 619.5H51M54 619.5H57M60 619.5H63M66 619.5H69M72 619.5H75M78 619.5H81M84 619.5H87M90 619.5H93M96 619.5H99M102 619.5H105M108 619.5H111M114 619.5H117M120 619.5H123M126 619.5H129M132 619.5H135M138 619.5H141M144 619.5H147M150 619.5H153M156 619.5H159M162 619.5H165M168 619.5H171M174 619.5H177M180 619.5H183M186 619.5H189M192 619.5H195M198 619.5H201M204 619.5H207M210 619.5H213M216 619.5H219M222 619.5H225M228 619.5H231M234 619.5H237M240 619.5H243M246 619.5H249M252 619.5H255M258 619.5H261M264 619.5H267M270 619.5H273M276 619.5H279M282 619.5H285M288 619.5H291M294 619.5H297M300 619.5H303M306 619.5H309M312 619.5H315M318 619.5H321M324 619.5H327M330 619.5H333M336 619.5H339M342 619.5H345M348 619.5H351M354 619.5H357M360 619.5H363M366 619.5H369M372 619.5H375M378 619.5H381M384 619.5H387M390 619.5H393M396 619.5H399M402 619.5H405M408 619.5H411M414 619.5H417M420 619.5H423M426 619.5H429M432 619.5H435M438 619.5H441M444 619.5H447M450 619.5H453M456 619.5H459M462 619.5H465M468 619.5H471M474 619.5H477M480 619.5H483M486 619.5H489M492 619.5H495M498 619.5H501M504 619.5H507M510 619.5H513M516 619.5H519M522 619.5H525M528 619.5H531M534 619.5H537M540 619.5H543M546 619.5H549M552 619.5H555M558 619.5H561M564 619.5H567M570 619.5H573M576 619.5H579M582 619.5H585M588 619.5H591M594 619.5H597M600 619.5H603M606 619.5H609M612 619.5H615M618 619.5H621M624 619.5H627M630 619.5H633M636 619.5H639M642 619.5H645M648 619.5H651M654 619.5H657M660 619.5H663M666 619.5H669M672 619.5H675M678 619.5H681M684 619.5H687M690 619.5H693M696 619.5H699M702 619.5H705M708 619.5H711M714 619.5H717M720 619.5H723M726 619.5H729M732 619.5H735M738 619.5H741M744 619.5H747M750 619.5H753M756 619.5H759M762 619.5H765M768 619.5H771M774 619.5H777M780 619.5H783M786 619.5H789M792 619.5H795M798 619.5H801M804 619.5H807M810 619.5H813M816 619.5H819M822 619.5H825M828 619.5H831M834 619.5H837M840 619.5H843M846 619.5H849M852 619.5H855M858 619.5H861M864 619.5H867M870 619.5H873M876 619.5H879M882 619.5H885M888 619.5H891M894 619.5H897M900 619.5H903M906 619.5H909M912 619.5H915M918 619.5H921M924 619.5H927M930 619.5H933M936 619.5H939M942 619.5H945M948 619.5H951M954 619.5H957M960 619.5H963M966 619.5H969M972 619.5H975M978 619.5H981M984 619.5H987M990 619.5H993M996 619.5H999M1002 619.5H1005M1008 619.5H1011M1014 619.5H1017M1020 619.5H1023M1026 619.5H1029M1032 619.5H1035M1038 619.5H1041M1044 619.5H1047M1050 619.5H1053M1056 619.5H1059M1062 619.5H1065M1068 619.5H1071M1074 619.5H1077M1080 619.5H1083M1086 619.5H1089M1092 619.5H1095M1098 619.5H1101M1104 619.5H1107M1110 619.5H1113M1116 619.5H1119M1122 619.5H1125M1128 619.5H1131M1134 619.5H1137M1140 619.5H1143M1146 619.5H1149M1152 619.5H1155M1158 619.5H1161M1164 619.5H1167M1170 619.5H1173M1176 619.5H1179M1182 619.5H1185M1188 619.5H1191M1194 619.5H1197M1200 619.5H1203M1206 619.5H1209M1212 619.5H1215M1218 619.5H1221M1224 619.5H1227M1230 619.5H1233M1236 619.5H1239M1242 619.5H1245M1248 619.5H1251M1254 619.5H1257M1260 619.5H1263M1266 619.5H1269M1272 619.5H1275M1278 619.5H1281M1284 619.5H1287M1290 619.5H1293M1296 619.5H1299M1302 619.5H1305M1308 619.5H1311M1314 619.5H1317M1320 619.5H1323M1326 619.5H1329M1332 619.5H1335M1338 619.5H1341M1344 619.5H1347M1350 619.5H1353M1356 619.5H1359M1362 619.5H1365M1368 619.5H1371M1374 619.5H1377M1380 619.5H1383M1386 619.5H1389M1392 619.5H1395M1398 619.5H1401M1404 619.5H1407M1410 619.5H1413M1416 619.5H1419M1422 619.5H1425M1428 619.5H1431M1434 619.5H1437M1440 619.5H1443M1446 619.5H1449M1452 619.5H1455M1458 619.5H1461M1464 619.5H1467M1470 619.5H1473M1476 619.5H1479M1482 619.5H1485M1488 619.5H1491M1494 619.5H1497M1500 619.5H1503M1506 619.5H1509M1512 619.5H1515M1518 619.5H1521M1524 619.5H1527M1530 619.5H1533M6 668.5H9M12 668.5H15M18 668.5H21M24 668.5H27M30 668.5H33M36 668.5H39M42 668.5H45M48 668.5H51M54 668.5H57M60 668.5H63M66 668.5H69M72 668.5H75M78 668.5H81M84 668.5H87M90 668.5H93M96 668.5H99M102 668.5H105M108 668.5H111M114 668.5H117M120 668.5H123M126 668.5H129M132 668.5H135M138 668.5H141M144 668.5H147M150 668.5H153M156 668.5H159M162 668.5H165M168 668.5H171M174 668.5H177M180 668.5H183M186 668.5H189M192 668.5H195M198 668.5H201M204 668.5H207M210 668.5H213M216 668.5H219M222 668.5H225M228 668.5H231M234 668.5H237M240 668.5H243M246 668.5H249M252 668.5H255M258 668.5H261M264 668.5H267M270 668.5H273M276 668.5H279M282 668.5H285M288 668.5H291M294 668.5H297M300 668.5H303M306 668.5H309M312 668.5H315M318 668.5H321M324 668.5H327M330 668.5H333M336 668.5H339M342 668.5H345M348 668.5H351M354 668.5H357M360 668.5H363M366 668.5H369M372 668.5H375M378 668.5H381M384 668.5H387M390 668.5H393M396 668.5H399M402 668.5H405M408 668.5H411M414 668.5H417M420 668.5H423M426 668.5H429M432 668.5H435M438 668.5H441M444 668.5H447M450 668.5H453M456 668.5H459M462 668.5H465M468 668.5H471M474 668.5H477M480 668.5H483M486 668.5H489M492 668.5H495M498 668.5H501M504 668.5H507M510 668.5H513M516 668.5H519M522 668.5H525M528 668.5H531M534 668.5H537M540 668.5H543M546 668.5H549M552 668.5H555M558 668.5H561M564 668.5H567M570 668.5H573M576 668.5H579M582 668.5H585M588 668.5H591M594 668.5H597M600 668.5H603M606 668.5H609M612 668.5H615M618 668.5H621M624 668.5H627M630 668.5H633M636 668.5H639M642 668.5H645M648 668.5H651M654 668.5H657M660 668.5H663M666 668.5H669M672 668.5H675M678 668.5H681M684 668.5H687M690 668.5H693M696 668.5H699M702 668.5H705M708 668.5H711M714 668.5H717M720 668.5H723M726 668.5H729M732 668.5H735M738 668.5H741M744 668.5H747M750 668.5H753M756 668.5H759M762 668.5H765M768 668.5H771M774 668.5H777M780 668.5H783M786 668.5H789M792 668.5H795M798 668.5H801M804 668.5H807M810 668.5H813M816 668.5H819M822 668.5H825M828 668.5H831M834 668.5H837M840 668.5H843M846 668.5H849M852 668.5H855M858 668.5H861M864 668.5H867M870 668.5H873M876 668.5H879M882 668.5H885M888 668.5H891M894 668.5H897M900 668.5H903M906 668.5H909M912 668.5H915M918 668.5H921M924 668.5H927M930 668.5H933M936 668.5H939M942 668.5H945M948 668.5H951M954 668.5H957M960 668.5H963M966 668.5H969M972 668.5H975M978 668.5H981M984 668.5H987M990 668.5H993M996 668.5H999M1002 668.5H1005M1008 668.5H1011M1014 668.5H1017M1020 668.5H1023M1026 668.5H1029M1032 668.5H1035M1038 668.5H1041M1044 668.5H1047M1050 668.5H1053M1056 668.5H1059M1062 668.5H1065M1068 668.5H1071M1074 668.5H1077M1080 668.5H1083M1086 668.5H1089M1092 668.5H1095M1098 668.5H1101M1104 668.5H1107M1110 668.5H1113M1116 668.5H1119M1122 668.5H1125M1128 668.5H1131M1134 668.5H1137M1140 668.5H1143M1146 668.5H1149M1152 668.5H1155M1158 668.5H1161M1164 668.5H1167M1170 668.5H1173M1176 668.5H1179M1182 668.5H1185M1188 668.5H1191M1194 668.5H1197M1200 668.5H1203M1206 668.5H1209M1212 668.5H1215M1218 668.5H1221M1224 668.5H1227M1230 668.5H1233M1236 668.5H1239M1242 668.5H1245M1248 668.5H1251M1254 668.5H1257M1260 668.5H1263M1266 668.5H1269M1272 668.5H1275M1278 668.5H1281M1284 668.5H1287M1290 668.5H1293M1296 668.5H1299M1302 668.5H1305M1308 668.5H1311M1314 668.5H1317M1320 668.5H1323M1326 668.5H1329M1332 668.5H1335M1338 668.5H1341M1344 668.5H1347M1350 668.5H1353M1356 668.5H1359M1362 668.5H1365M1368 668.5H1371M1374 668.5H1377M1380 668.5H1383M1386 668.5H1389M1392 668.5H1395M1398 668.5H1401M1404 668.5H1407M1410 668.5H1413M1416 668.5H1419M1422 668.5H1425M1428 668.5H1431M1434 668.5H1437M1440 668.5H1443M1446 668.5H1449M1452 668.5H1455M1458 668.5H1461M1464 668.5H1467M1470 668.5H1473M1476 668.5H1479M1482 668.5H1485M1488 668.5H1491M1494 668.5H1497M1500 668.5H1503M1506 668.5H1509M1512 668.5H1515M1518 668.5H1521M1524 668.5H1527M1530 668.5H1533M53.5 5V7M53.5 10V13M53.5 16V19M53.5 22V25M53.5 28V31M53.5 34V37M53.5 40V43M53.5 46V49M53.5 52V55M53.5 58V61M53.5 64V67M53.5 70V73M53.5 76V79M53.5 82V85M53.5 88V91M53.5 94V97M53.5 100V103M53.5 106V109M53.5 112V115M53.5 118V121M53.5 124V127M53.5 130V133M53.5 136V139M53.5 142V145M53.5 148V151M53.5 154V157M53.5 160V163M53.5 166V169M53.5 172V175M53.5 178V181M53.5 184V187M53.5 190V193M53.5 196V199M53.5 202V205M53.5 208V211M53.5 214V217M53.5 220V223M53.5 226V229M53.5 232V235M53.5 238V241M53.5 244V247M53.5 250V253M53.5 256V259M53.5 262V265M53.5 268V271M53.5 274V277M53.5 280V283M53.5 286V289M53.5 292V295M53.5 298V301M53.5 304V307M53.5 310V313M53.5 316V319M53.5 322V325M53.5 328V331M53.5 334V337M53.5 340V343M53.5 346V349M53.5 352V355M53.5 358V361M53.5 364V367M53.5 370V373M53.5 376V379M53.5 382V385M53.5 388V391M53.5 394V397M53.5 400V403M53.5 406V409M53.5 412V415M53.5 418V421M53.5 424V427M53.5 430V433M53.5 436V439M53.5 442V445M53.5 448V451M53.5 454V457M53.5 460V463M53.5 466V469M53.5 472V475M53.5 478V481M53.5 484V487M53.5 490V493M53.5 496V499M53.5 502V505M53.5 508V511M53.5 514V517M53.5 520V523M53.5 526V529M53.5 532V535M53.5 538V541M53.5 544V547M53.5 550V553M53.5 556V559M53.5 562V565M53.5 568V571M53.5 574V577M53.5 580V583M53.5 586V589M53.5 592V595M53.5 598V601M53.5 604V607M53.5 610V613M53.5 616V619M53.5 622V625M53.5 628V631M53.5 634V637M53.5 640V643M53.5 646V649M53.5 652V655M53.5 658V661M53.5 664V667M53.5 670V673M53.5 676V679M53.5 682V685M101.5 5V7M101.5 10V13M101.5 16V19M101.5 22V25M101.5 28V31M101.5 34V37M101.5 40V43M101.5 46V49M101.5 52V55M101.5 58V61M101.5 64V67M101.5 70V73M101.5 76V79M101.5 82V85M101.5 88V91M101.5 94V97M101.5 100V103M101.5 106V109M101.5 112V115M101.5 118V121M101.5 124V127M101.5 130V133M101.5 136V139M101.5 142V145M101.5 148V151M101.5 154V157M101.5 160V163M101.5 166V169M101.5 172V175M101.5 178V181M101.5 184V187M101.5 190V193M101.5 196V199M101.5 202V205M101.5 208V211M101.5 214V217M101.5 220V223M101.5 226V229M101.5 232V235M101.5 238V241M101.5 244V247M101.5 250V253M101.5 256V259M101.5 262V265M101.5 268V271M101.5 274V277M101.5 280V283M101.5 286V289M101.5 292V295M101.5 298V301M101.5 304V307M101.5 310V313M101.5 316V319M101.5 322V325M101.5 328V331M101.5 334V337M101.5 340V343M101.5 346V349M101.5 352V355M101.5 358V361M101.5 364V367M101.5 370V373M101.5 376V379M101.5 382V385M101.5 388V391M101.5 394V397M101.5 400V403M101.5 406V409M101.5 412V415M101.5 418V421M101.5 424V427M101.5 430V433M101.5 436V439M101.5 442V445M101.5 448V451M101.5 454V457M101.5 460V463M101.5 466V469M101.5 472V475M101.5 478V481M101.5 484V487M101.5 490V493M101.5 496V499M101.5 502V505M101.5 508V511M101.5 514V517M101.5 520V523M101.5 526V529M101.5 532V535M101.5 538V541M101.5 544V547M101.5 550V553M101.5 556V559M101.5 562V565M101.5 568V571M101.5 574V577M101.5 580V583M101.5 586V589M101.5 592V595M101.5 598V601M101.5 604V607M101.5 610V613M101.5 616V619M101.5 622V625M101.5 628V631M101.5 634V637M101.5 640V643M101.5 646V649M101.5 652V655M101.5 658V661M101.5 664V667M101.5 670V673M101.5 676V679M101.5 682V685M149.5 5V7M149.5 10V13M149.5 16V19M149.5 22V25M149.5 28V31M149.5 34V37M149.5 40V43M149.5 46V49M149.5 52V55M149.5 58V61M149.5 64V67M149.5 70V73M149.5 76V79M149.5 82V85M149.5 88V91M149.5 94V97M149.5 100V103M149.5 106V109M149.5 112V115M149.5 118V121M149.5 124V127M149.5 130V133M149.5 136V139M149.5 142V145M149.5 148V151M149.5 154V157M149.5 160V163M149.5 166V169M149.5 172V175M149.5 178V181M149.5 184V187M149.5 190V193M149.5 196V199M149.5 202V205M149.5 208V211M149.5 214V217M149.5 220V223M149.5 226V229M149.5 232V235M149.5 238V241M149.5 244V247M149.5 250V253M149.5 256V259M149.5 262V265M149.5 268V271M149.5 274V277M149.5 280V283M149.5 286V289M149.5 292V295M149.5 298V301M149.5 304V307M149.5 310V313M149.5 316V319M149.5 322V325M149.5 328V331M149.5 334V337M149.5 340V343M149.5 346V349M149.5 352V355M149.5 358V361M149.5 364V367M149.5 370V373M149.5 376V379M149.5 382V385M149.5 388V391M149.5 394V397M149.5 400V403M149.5 406V409M149.5 412V415M149.5 418V421M149.5 424V427M149.5 430V433M149.5 436V439M149.5 442V445M149.5 448V451M149.5 454V457M149.5 460V463M149.5 466V469M149.5 472V475M149.5 478V481M149.5 484V487M149.5 490V493M149.5 496V499M149.5 502V505M149.5 508V511M149.5 514V517M149.5 520V523M149.5 526V529M149.5 532V535M149.5 538V541M149.5 544V547M149.5 550V553M149.5 556V559M149.5 562V565M149.5 568V571M149.5 574V577M149.5 580V583M149.5 586V589M149.5 592V595M149.5 598V601M149.5 604V607M149.5 610V613M149.5 616V619M149.5 622V625M149.5 628V631M149.5 634V637M149.5 640V643M149.5 646V649M149.5 652V655M149.5 658V661M149.5 664V667M149.5 670V673M149.5 676V679M149.5 682V685M197.5 5V7M197.5 10V13M197.5 16V19M197.5 22V25M197.5 28V31M197.5 34V37M197.5 40V43M197.5 46V49M197.5 52V55M197.5 58V61M197.5 64V67M197.5 70V73M197.5 76V79M197.5 82V85M197.5 88V91M197.5 94V97M197.5 100V103M197.5 106V109M197.5 112V115M197.5 118V121M197.5 124V127M197.5 130V133M197.5 136V139M197.5 142V145M197.5 148V151M197.5 154V157M197.5 160V163M197.5 166V169M197.5 172V175M197.5 178V181M197.5 184V187M197.5 190V193M197.5 196V199M197.5 202V205M197.5 208V211M197.5 214V217M197.5 220V223M197.5 226V229M197.5 232V235M197.5 238V241M197.5 244V247M197.5 250V253M197.5 256V259M197.5 262V265M197.5 268V271M197.5 274V277M197.5 280V283M197.5 286V289M197.5 292V295M197.5 298V301M197.5 304V307M197.5 310V313M197.5 316V319M197.5 322V325M197.5 328V331M197.5 334V337M197.5 340V343M197.5 346V349M197.5 352V355M197.5 358V361M197.5 364V367M197.5 370V373M197.5 376V379M197.5 382V385M197.5 388V391M197.5 394V397M197.5 400V403M197.5 406V409M197.5 412V415M197.5 418V421M197.5 424V427M197.5 430V433M197.5 436V439M197.5 442V445M197.5 448V451M197.5 454V457M197.5 460V463M197.5 466V469M197.5 472V475M197.5 478V481M197.5 484V487M197.5 490V493M197.5 496V499M197.5 502V505M197.5 508V511M197.5 514V517M197.5 520V523M197.5 526V529M197.5 532V535M197.5 538V541M197.5 544V547M197.5 550V553M197.5 556V559M197.5 562V565M197.5 568V571M197.5 574V577M197.5 580V583M197.5 586V589M197.5 592V595M197.5 598V601M197.5 604V607M197.5 610V613M197.5 616V619M197.5 622V625M197.5 628V631M197.5 634V637M197.5 640V643M197.5 646V649M197.5 652V655M197.5 658V661M197.5 664V667M197.5 670V673M197.5 676V679M197.5 682V685M245.5 5V7M245.5 10V13M245.5 16V19M245.5 22V25M245.5 28V31M245.5 34V37M245.5 40V43M245.5 46V49M245.5 52V55M245.5 58V61M245.5 64V67M245.5 70V73M245.5 76V79M245.5 82V85M245.5 88V91M245.5 94V97M245.5 100V103M245.5 106V109M245.5 112V115M245.5 118V121M245.5 124V127M245.5 130V133M245.5 136V139M245.5 142V145M245.5 148V151M245.5 154V157M245.5 160V163M245.5 166V169M245.5 172V175M245.5 178V181M245.5 184V187M245.5 190V193M245.5 196V199M245.5 202V205M245.5 208V211M245.5 214V217M245.5 220V223M245.5 226V229M245.5 232V235M245.5 238V241M245.5 244V247M245.5 250V253M245.5 256V259M245.5 262V265M245.5 268V271M245.5 274V277M245.5 280V283M245.5 286V289M245.5 292V295M245.5 298V301M245.5 304V307M245.5 310V313M245.5 316V319M245.5 322V325M245.5 328V331M245.5 334V337M245.5 340V343M245.5 346V349M245.5 352V355M245.5 358V361M245.5 364V367M245.5 370V373M245.5 376V379M245.5 382V385M245.5 388V391M245.5 394V397M245.5 400V403M245.5 406V409M245.5 412V415M245.5 418V421M245.5 424V427M245.5 430V433M245.5 436V439M245.5 442V445M245.5 448V451M245.5 454V457M245.5 460V463M245.5 466V469M245.5 472V475M245.5 478V481M245.5 484V487M245.5 490V493M245.5 496V499M245.5 502V505M245.5 508V511M245.5 514V517M245.5 520V523M245.5 526V529M245.5 532V535M245.5 538V541M245.5 544V547M245.5 550V553M245.5 556V559M245.5 562V565M245.5 568V571M245.5 574V577M245.5 580V583M245.5 586V589M245.5 592V595M245.5 598V601M245.5 604V607M245.5 610V613M245.5 616V619M245.5 622V625M245.5 628V631M245.5 634V637M245.5 640V643M245.5 646V649M245.5 652V655M245.5 658V661M245.5 664V667M245.5 670V673M245.5 676V679M245.5 682V685M293.5 5V7M293.5 10V13M293.5 16V19M293.5 22V25M293.5 28V31M293.5 34V37M293.5 40V43M293.5 46V49M293.5 52V55M293.5 58V61M293.5 64V67M293.5 70V73M293.5 76V79M293.5 82V85M293.5 88V91M293.5 94V97M293.5 100V103M293.5 106V109M293.5 112V115M293.5 118V121M293.5 124V127M293.5 130V133M293.5 136V139M293.5 142V145M293.5 148V151M293.5 154V157M293.5 160V163M293.5 166V169M293.5 172V175M293.5 178V181M293.5 184V187M293.5 190V193M293.5 196V199M293.5 202V205M293.5 208V211M293.5 214V217M293.5 220V223M293.5 226V229M293.5 232V235M293.5 238V241M293.5 244V247M293.5 250V253M293.5 256V259M293.5 262V265M293.5 268V271M293.5 274V277M293.5 280V283M293.5 286V289M293.5 292V295M293.5 298V301M293.5 304V307M293.5 310V313M293.5 316V319M293.5 322V325M293.5 328V331M293.5 334V337M293.5 340V343M293.5 346V349M293.5 352V355M293.5 358V361M293.5 364V367M293.5 370V373M293.5 376V379M293.5 382V385M293.5 388V391M293.5 394V397M293.5 400V403M293.5 406V409M293.5 412V415M293.5 418V421M293.5 424V427M293.5 430V433M293.5 436V439M293.5 442V445M293.5 448V451M293.5 454V457M293.5 460V463M293.5 466V469M293.5 472V475M293.5 478V481M293.5 484V487M293.5 490V493M293.5 496V499M293.5 502V505M293.5 508V511M293.5 514V517M293.5 520V523M293.5 526V529M293.5 532V535M293.5 538V541M293.5 544V547M293.5 550V553M293.5 556V559M293.5 562V565M293.5 568V571M293.5 574V577M293.5 580V583M293.5 586V589M293.5 592V595M293.5 598V601M293.5 604V607M293.5 610V613M293.5 616V619M293.5 622V625M293.5 628V631M293.5 634V637M293.5 640V643M293.5 646V649M293.5 652V655M293.5 658V661M293.5 664V667M293.5 670V673M293.5 676V679M293.5 682V685M341.5 5V7M341.5 10V13M341.5 16V19M341.5 22V25M341.5 28V31M341.5 34V37M341.5 40V43M341.5 46V49M341.5 52V55M341.5 58V61M341.5 64V67M341.5 70V73M341.5 76V79M341.5 82V85M341.5 88V91M341.5 94V97M341.5 100V103M341.5 106V109M341.5 112V115M341.5 118V121M341.5 124V127M341.5 130V133M341.5 136V139M341.5 142V145M341.5 148V151M341.5 154V157M341.5 160V163M341.5 166V169M341.5 172V175M341.5 178V181M341.5 184V187M341.5 190V193M341.5 196V199M341.5 202V205M341.5 208V211M341.5 214V217M341.5 220V223M341.5 226V229M341.5 232V235M341.5 238V241M341.5 244V247M341.5 250V253M341.5 256V259M341.5 262V265M341.5 268V271M341.5 274V277M341.5 280V283M341.5 286V289M341.5 292V295M341.5 298V301M341.5 304V307M341.5 310V313M341.5 316V319M341.5 322V325M341.5 328V331M341.5 334V337M341.5 340V343M341.5 346V349M341.5 352V355M341.5 358V361M341.5 364V367M341.5 370V373M341.5 376V379M341.5 382V385M341.5 388V391M341.5 394V397M341.5 400V403M341.5 406V409M341.5 412V415M341.5 418V421M341.5 424V427M341.5 430V433M341.5 436V439M341.5 442V445M341.5 448V451M341.5 454V457M341.5 460V463M341.5 466V469M341.5 472V475M341.5 478V481M341.5 484V487M341.5 490V493M341.5 496V499M341.5 502V505M341.5 508V511M341.5 514V517M341.5 520V523M341.5 526V529M341.5 532V535M341.5 538V541M341.5 544V547M341.5 550V553M341.5 556V559M341.5 562V565M341.5 568V571M341.5 574V577M341.5 580V583M341.5 586V589M341.5 592V595M341.5 598V601M341.5 604V607M341.5 610V613M341.5 616V619M341.5 622V625M341.5 628V631M341.5 634V637M341.5 640V643M341.5 646V649M341.5 652V655M341.5 658V661M341.5 664V667M341.5 670V673M341.5 676V679M341.5 682V685M389.5 5V7M389.5 10V13M389.5 16V19M389.5 22V25M389.5 28V31M389.5 34V37M389.5 40V43M389.5 46V49M389.5 52V55M389.5 58V61M389.5 64V67M389.5 70V73M389.5 76V79M389.5 82V85M389.5 88V91M389.5 94V97M389.5 100V103M389.5 106V109M389.5 112V115M389.5 118V121M389.5 124V127M389.5 130V133M389.5 136V139M389.5 142V145M389.5 148V151M389.5 154V157M389.5 160V163M389.5 166V169M389.5 172V175M389.5 178V181M389.5 184V187M389.5 190V193M389.5 196V199M389.5 202V205M389.5 208V211M389.5 214V217M389.5 220V223M389.5 226V229M389.5 232V235M389.5 238V241M389.5 244V247M389.5 250V253M389.5 256V259M389.5 262V265M389.5 268V271M389.5 274V277M389.5 280V283M389.5 286V289M389.5 292V295M389.5 298V301M389.5 304V307M389.5 310V313M389.5 316V319M389.5 322V325M389.5 328V331M389.5 334V337M389.5 340V343M389.5 346V349M389.5 352V355M389.5 358V361M389.5 364V367M389.5 370V373M389.5 376V379M389.5 382V385M389.5 388V391M389.5 394V397M389.5 400V403M389.5 406V409M389.5 412V415M389.5 418V421M389.5 424V427M389.5 430V433M389.5 436V439M389.5 442V445M389.5 448V451M389.5 454V457M389.5 460V463M389.5 466V469M389.5 472V475M389.5 478V481M389.5 484V487M389.5 490V493M389.5 496V499M389.5 502V505M389.5 508V511M389.5 514V517M389.5 520V523M389.5 526V529M389.5 532V535M389.5 538V541M389.5 544V547M389.5 550V553M389.5 556V559M389.5 562V565M389.5 568V571M389.5 574V577M389.5 580V583M389.5 586V589M389.5 592V595M389.5 598V601M389.5 604V607M389.5 610V613M389.5 616V619M389.5 622V625M389.5 628V631M389.5 634V637M389.5 640V643M389.5 646V649M389.5 652V655M389.5 658V661M389.5 664V667M389.5 670V673M389.5 676V679M389.5 682V685M437.5 5V7M437.5 10V13M437.5 16V19M437.5 22V25M437.5 28V31M437.5 34V37M437.5 40V43M437.5 46V49M437.5 52V55M437.5 58V61M437.5 64V67M437.5 70V73M437.5 76V79M437.5 82V85M437.5 88V91M437.5 94V97M437.5 100V103M437.5 106V109M437.5 112V115M437.5 118V121M437.5 124V127M437.5 130V133M437.5 136V139M437.5 142V145M437.5 148V151M437.5 154V157M437.5 160V163M437.5 166V169M437.5 172V175M437.5 178V181M437.5 184V187M437.5 190V193M437.5 196V199M437.5 202V205M437.5 208V211M437.5 214V217M437.5 220V223M437.5 226V229M437.5 232V235M437.5 238V241M437.5 244V247M437.5 250V253M437.5 256V259M437.5 262V265M437.5 268V271M437.5 274V277M437.5 280V283M437.5 286V289M437.5 292V295M437.5 298V301M437.5 304V307M437.5 310V313M437.5 316V319M437.5 322V325M437.5 328V331M437.5 334V337M437.5 340V343M437.5 346V349M437.5 352V355M437.5 358V361M437.5 364V367M437.5 370V373M437.5 376V379M437.5 382V385M437.5 388V391M437.5 394V397M437.5 400V403M437.5 406V409M437.5 412V415M437.5 418V421M437.5 424V427M437.5 430V433M437.5 436V439M437.5 442V445M437.5 448V451M437.5 454V457M437.5 460V463M437.5 466V469M437.5 472V475M437.5 478V481M437.5 484V487M437.5 490V493M437.5 496V499M437.5 502V505M437.5 508V511M437.5 514V517M437.5 520V523M437.5 526V529M437.5 532V535M437.5 538V541M437.5 544V547M437.5 550V553M437.5 556V559M437.5 562V565M437.5 568V571M437.5 574V577M437.5 580V583M437.5 586V589M437.5 592V595M437.5 598V601M437.5 604V607M437.5 610V613M437.5 616V619M437.5 622V625M437.5 628V631M437.5 634V637M437.5 640V643M437.5 646V649M437.5 652V655M437.5 658V661M437.5 664V667M437.5 670V673M437.5 676V679M437.5 682V685M485.5 5V7M485.5 10V13M485.5 16V19M485.5 22V25M485.5 28V31M485.5 34V37M485.5 40V43M485.5 46V49M485.5 52V55M485.5 58V61M485.5 64V67M485.5 70V73M485.5 76V79M485.5 82V85M485.5 88V91M485.5 94V97M485.5 100V103M485.5 106V109M485.5 112V115M485.5 118V121M485.5 124V127M485.5 130V133M485.5 136V139M485.5 142V145M485.5 148V151M485.5 154V157M485.5 160V163M485.5 166V169M485.5 172V175M485.5 178V181M485.5 184V187M485.5 190V193M485.5 196V199M485.5 202V205M485.5 208V211M485.5 214V217M485.5 220V223M485.5 226V229M485.5 232V235M485.5 238V241M485.5 244V247M485.5 250V253M485.5 256V259M485.5 262V265M485.5 268V271M485.5 274V277M485.5 280V283M485.5 286V289M485.5 292V295M485.5 298V301M485.5 304V307M485.5 310V313M485.5 316V319M485.5 322V325M485.5 328V331M485.5 334V337M485.5 340V343M485.5 346V349M485.5 352V355M485.5 358V361M485.5 364V367M485.5 370V373M485.5 376V379M485.5 382V385M485.5 388V391M485.5 394V397M485.5 400V403M485.5 406V409M485.5 412V415M485.5 418V421M485.5 424V427M485.5 430V433M485.5 436V439M485.5 442V445M485.5 448V451M485.5 454V457M485.5 460V463M485.5 466V469M485.5 472V475M485.5 478V481M485.5 484V487M485.5 490V493M485.5 496V499M485.5 502V505M485.5 508V511M485.5 514V517M485.5 520V523M485.5 526V529M485.5 532V535M485.5 538V541M485.5 544V547M485.5 550V553M485.5 556V559M485.5 562V565M485.5 568V571M485.5 574V577M485.5 580V583M485.5 586V589M485.5 592V595M485.5 598V601M485.5 604V607M485.5 610V613M485.5 616V619M485.5 622V625M485.5 628V631M485.5 634V637M485.5 640V643M485.5 646V649M485.5 652V655M485.5 658V661M485.5 664V667M485.5 670V673M485.5 676V679M485.5 682V685M533.5 5V7M533.5 10V13M533.5 16V19M533.5 22V25M533.5 28V31M533.5 34V37M533.5 40V43M533.5 46V49M533.5 52V55M533.5 58V61M533.5 64V67M533.5 70V73M533.5 76V79M533.5 82V85M533.5 88V91M533.5 94V97M533.5 100V103M533.5 106V109M533.5 112V115M533.5 118V121M533.5 124V127M533.5 130V133M533.5 136V139M533.5 142V145M533.5 148V151M533.5 154V157M533.5 160V163M533.5 166V169M533.5 172V175M533.5 178V181M533.5 184V187M533.5 190V193M533.5 196V199M533.5 202V205M533.5 208V211M533.5 214V217M533.5 220V223M533.5 226V229M533.5 232V235M533.5 238V241M533.5 244V247M533.5 250V253M533.5 256V259M533.5 262V265M533.5 268V271M533.5 274V277M533.5 280V283M533.5 286V289M533.5 292V295M533.5 298V301M533.5 304V307M533.5 310V313M533.5 316V319M533.5 322V325M533.5 328V331M533.5 334V337M533.5 340V343M533.5 346V349M533.5 352V355M533.5 358V361M533.5 364V367M533.5 370V373M533.5 376V379M533.5 382V385M533.5 388V391M533.5 394V397M533.5 400V403M533.5 406V409M533.5 412V415M533.5 418V421M533.5 424V427M533.5 430V433M533.5 436V439M533.5 442V445M533.5 448V451M533.5 454V457M533.5 460V463M533.5 466V469M533.5 472V475M533.5 478V481M533.5 484V487M533.5 490V493M533.5 496V499M533.5 502V505M533.5 508V511M533.5 514V517M533.5 520V523M533.5 526V529M533.5 532V535M533.5 538V541M533.5 544V547M533.5 550V553M533.5 556V559M533.5 562V565M533.5 568V571M533.5 574V577M533.5 580V583M533.5 586V589M533.5 592V595M533.5 598V601M533.5 604V607M533.5 610V613M533.5 616V619M533.5 622V625M533.5 628V631M533.5 634V637M533.5 640V643M533.5 646V649M533.5 652V655M533.5 658V661M533.5 664V667M533.5 670V673M533.5 676V679M533.5 682V685M581.5 5V7M581.5 10V13M581.5 16V19M581.5 22V25M581.5 28V31M581.5 34V37M581.5 40V43M581.5 46V49M581.5 52V55M581.5 58V61M581.5 64V67M581.5 70V73M581.5 76V79M581.5 82V85M581.5 88V91M581.5 94V97M581.5 100V103M581.5 106V109M581.5 112V115M581.5 118V121M581.5 124V127M581.5 130V133M581.5 136V139M581.5 142V145M581.5 148V151M581.5 154V157M581.5 160V163M581.5 166V169M581.5 172V175M581.5 178V181M581.5 184V187M581.5 190V193M581.5 196V199M581.5 202V205M581.5 208V211M581.5 214V217M581.5 220V223M581.5 226V229M581.5 232V235M581.5 238V241M581.5 244V247M581.5 250V253M581.5 256V259M581.5 262V265M581.5 268V271M581.5 274V277M581.5 280V283M581.5 286V289M581.5 292V295M581.5 298V301M581.5 304V307M581.5 310V313M581.5 316V319M581.5 322V325M581.5 328V331M581.5 334V337M581.5 340V343M581.5 346V349M581.5 352V355M581.5 358V361M581.5 364V367M581.5 370V373M581.5 376V379M581.5 382V385M581.5 388V391M581.5 394V397M581.5 400V403M581.5 406V409M581.5 412V415M581.5 418V421M581.5 424V427M581.5 430V433M581.5 436V439M581.5 442V445M581.5 448V451M581.5 454V457M581.5 460V463M581.5 466V469M581.5 472V475M581.5 478V481M581.5 484V487M581.5 490V493M581.5 496V499M581.5 502V505M581.5 508V511M581.5 514V517M581.5 520V523M581.5 526V529M581.5 532V535M581.5 538V541M581.5 544V547M581.5 550V553M581.5 556V559M581.5 562V565M581.5 568V571M581.5 574V577M581.5 580V583M581.5 586V589M581.5 592V595M581.5 598V601M581.5 604V607M581.5 610V613M581.5 616V619M581.5 622V625M581.5 628V631M581.5 634V637M581.5 640V643M581.5 646V649M581.5 652V655M581.5 658V661M581.5 664V667M581.5 670V673M581.5 676V679M581.5 682V685M629.5 5V7M629.5 10V13M629.5 16V19M629.5 22V25M629.5 28V31M629.5 34V37M629.5 40V43M629.5 46V49M629.5 52V55M629.5 58V61M629.5 64V67M629.5 70V73M629.5 76V79M629.5 82V85M629.5 88V91M629.5 94V97M629.5 100V103M629.5 106V109M629.5 112V115M629.5 118V121M629.5 124V127M629.5 130V133M629.5 136V139M629.5 142V145M629.5 148V151M629.5 154V157M629.5 160V163M629.5 166V169M629.5 172V175M629.5 178V181M629.5 184V187M629.5 190V193M629.5 196V199M629.5 202V205M629.5 208V211M629.5 214V217M629.5 220V223M629.5 226V229M629.5 232V235M629.5 238V241M629.5 244V247M629.5 250V253M629.5 256V259M629.5 262V265M629.5 268V271M629.5 274V277M629.5 280V283M629.5 286V289M629.5 292V295M629.5 298V301M629.5 304V307M629.5 310V313M629.5 316V319M629.5 322V325M629.5 328V331M629.5 334V337M629.5 340V343M629.5 346V349M629.5 352V355M629.5 358V361M629.5 364V367M629.5 370V373M629.5 376V379M629.5 382V385M629.5 388V391M629.5 394V397M629.5 400V403M629.5 406V409M629.5 412V415M629.5 418V421M629.5 424V427M629.5 430V433M629.5 436V439M629.5 442V445M629.5 448V451M629.5 454V457M629.5 460V463M629.5 466V469M629.5 472V475M629.5 478V481M629.5 484V487M629.5 490V493M629.5 496V499M629.5 502V505M629.5 508V511M629.5 514V517M629.5 520V523M629.5 526V529M629.5 532V535M629.5 538V541M629.5 544V547M629.5 550V553M629.5 556V559M629.5 562V565M629.5 568V571M629.5 574V577M629.5 580V583M629.5 586V589M629.5 592V595M629.5 598V601M629.5 604V607M629.5 610V613M629.5 616V619M629.5 622V625M629.5 628V631M629.5 634V637M629.5 640V643M629.5 646V649M629.5 652V655M629.5 658V661M629.5 664V667M629.5 670V673M629.5 676V679M629.5 682V685M677.5 5V7M677.5 10V13M677.5 16V19M677.5 22V25M677.5 28V31M677.5 34V37M677.5 40V43M677.5 46V49M677.5 52V55M677.5 58V61M677.5 64V67M677.5 70V73M677.5 76V79M677.5 82V85M677.5 88V91M677.5 94V97M677.5 100V103M677.5 106V109M677.5 112V115M677.5 118V121M677.5 124V127M677.5 130V133M677.5 136V139M677.5 142V145M677.5 148V151M677.5 154V157M677.5 160V163M677.5 166V169M677.5 172V175M677.5 178V181M677.5 184V187M677.5 190V193M677.5 196V199M677.5 202V205M677.5 208V211M677.5 214V217M677.5 220V223M677.5 226V229M677.5 232V235M677.5 238V241M677.5 244V247M677.5 250V253M677.5 256V259M677.5 262V265M677.5 268V271M677.5 274V277M677.5 280V283M677.5 286V289M677.5 292V295M677.5 298V301M677.5 304V307M677.5 310V313M677.5 316V319M677.5 322V325M677.5 328V331M677.5 334V337M677.5 340V343M677.5 346V349M677.5 352V355M677.5 358V361M677.5 364V367M677.5 370V373M677.5 376V379M677.5 382V385M677.5 388V391M677.5 394V397M677.5 400V403M677.5 406V409M677.5 412V415M677.5 418V421M677.5 424V427M677.5 430V433M677.5 436V439M677.5 442V445M677.5 448V451M677.5 454V457M677.5 460V463M677.5 466V469M677.5 472V475M677.5 478V481M677.5 484V487M677.5 490V493M677.5 496V499M677.5 502V505M677.5 508V511M677.5 514V517M677.5 520V523M677.5 526V529M677.5 532V535M677.5 538V541M677.5 544V547M677.5 550V553M677.5 556V559M677.5 562V565M677.5 568V571M677.5 574V577M677.5 580V583M677.5 586V589M677.5 592V595M677.5 598V601M677.5 604V607M677.5 610V613M677.5 616V619M677.5 622V625M677.5 628V631M677.5 634V637M677.5 640V643M677.5 646V649M677.5 652V655M677.5 658V661M677.5 664V667M677.5 670V673M677.5 676V679M677.5 682V685M725.5 5V7M725.5 10V13M725.5 16V19M725.5 22V25M725.5 28V31M725.5 34V37M725.5 40V43M725.5 46V49M725.5 52V55M725.5 58V61M725.5 64V67M725.5 70V73M725.5 76V79M725.5 82V85M725.5 88V91M725.5 94V97M725.5 100V103M725.5 106V109M725.5 112V115M725.5 118V121M725.5 124V127M725.5 130V133M725.5 136V139M725.5 142V145M725.5 148V151M725.5 154V157M725.5 160V163M725.5 166V169M725.5 172V175M725.5 178V181M725.5 184V187M725.5 190V193M725.5 196V199M725.5 202V205M725.5 208V211M725.5 214V217M725.5 220V223M725.5 226V229M725.5 232V235M725.5 238V241M725.5 244V247M725.5 250V253M725.5 256V259M725.5 262V265M725.5 268V271M725.5 274V277M725.5 280V283M725.5 286V289M725.5 292V295M725.5 298V301M725.5 304V307M725.5 310V313M725.5 316V319M725.5 322V325M725.5 328V331M725.5 334V337M725.5 340V343M725.5 346V349M725.5 352V355M725.5 358V361M725.5 364V367M725.5 370V373M725.5 376V379M725.5 382V385M725.5 388V391M725.5 394V397M725.5 400V403M725.5 406V409M725.5 412V415M725.5 418V421M725.5 424V427M725.5 430V433M725.5 436V439M725.5 442V445M725.5 448V451M725.5 454V457M725.5 460V463M725.5 466V469M725.5 472V475M725.5 478V481M725.5 484V487M725.5 490V493M725.5 496V499M725.5 502V505M725.5 508V511M725.5 514V517M725.5 520V523M725.5 526V529M725.5 532V535M725.5 538V541M725.5 544V547M725.5 550V553M725.5 556V559M725.5 562V565M725.5 568V571M725.5 574V577M725.5 580V583M725.5 586V589M725.5 592V595M725.5 598V601M725.5 604V607M725.5 610V613M725.5 616V619M725.5 622V625M725.5 628V631M725.5 634V637M725.5 640V643M725.5 646V649M725.5 652V655M725.5 658V661M725.5 664V667M725.5 670V673M725.5 676V679M725.5 682V685M773.5 5V7M773.5 10V13M773.5 16V19M773.5 22V25M773.5 28V31M773.5 34V37M773.5 40V43M773.5 46V49M773.5 52V55M773.5 58V61M773.5 64V67M773.5 70V73M773.5 76V79M773.5 82V85M773.5 88V91M773.5 94V97M773.5 100V103M773.5 106V109M773.5 112V115M773.5 118V121M773.5 124V127M773.5 130V133M773.5 136V139M773.5 142V145M773.5 148V151M773.5 154V157M773.5 160V163M773.5 166V169M773.5 172V175M773.5 178V181M773.5 184V187M773.5 190V193M773.5 196V199M773.5 202V205M773.5 208V211M773.5 214V217M773.5 220V223M773.5 226V229M773.5 232V235M773.5 238V241M773.5 244V247M773.5 250V253M773.5 256V259M773.5 262V265M773.5 268V271M773.5 274V277M773.5 280V283M773.5 286V289M773.5 292V295M773.5 298V301M773.5 304V307M773.5 310V313M773.5 316V319M773.5 322V325M773.5 328V331M773.5 334V337M773.5 340V343M773.5 346V349M773.5 352V355M773.5 358V361M773.5 364V367M773.5 370V373M773.5 376V379M773.5 382V385M773.5 388V391M773.5 394V397M773.5 400V403M773.5 406V409M773.5 412V415M773.5 418V421M773.5 424V427M773.5 430V433M773.5 436V439M773.5 442V445M773.5 448V451M773.5 454V457M773.5 460V463M773.5 466V469M773.5 472V475M773.5 478V481M773.5 484V487M773.5 490V493M773.5 496V499M773.5 502V505M773.5 508V511M773.5 514V517M773.5 520V523M773.5 526V529M773.5 532V535M773.5 538V541M773.5 544V547M773.5 550V553M773.5 556V559M773.5 562V565M773.5 568V571M773.5 574V577M773.5 580V583M773.5 586V589M773.5 592V595M773.5 598V601M773.5 604V607M773.5 610V613M773.5 616V619M773.5 622V625M773.5 628V631M773.5 634V637M773.5 640V643M773.5 646V649M773.5 652V655M773.5 658V661M773.5 664V667M773.5 670V673M773.5 676V679M773.5 682V685M821.5 5V7M821.5 10V13M821.5 16V19M821.5 22V25M821.5 28V31M821.5 34V37M821.5 40V43M821.5 46V49M821.5 52V55M821.5 58V61M821.5 64V67M821.5 70V73M821.5 76V79M821.5 82V85M821.5 88V91M821.5 94V97M821.5 100V103M821.5 106V109M821.5 112V115M821.5 118V121M821.5 124V127M821.5 130V133M821.5 136V139M821.5 142V145M821.5 148V151M821.5 154V157M821.5 160V163M821.5 166V169M821.5 172V175M821.5 178V181M821.5 184V187M821.5 190V193M821.5 196V199M821.5 202V205M821.5 208V211M821.5 214V217M821.5 220V223M821.5 226V229M821.5 232V235M821.5 238V241M821.5 244V247M821.5 250V253M821.5 256V259M821.5 262V265M821.5 268V271M821.5 274V277M821.5 280V283M821.5 286V289M821.5 292V295M821.5 298V301M821.5 304V307M821.5 310V313M821.5 316V319M821.5 322V325M821.5 328V331M821.5 334V337M821.5 340V343M821.5 346V349M821.5 352V355M821.5 358V361M821.5 364V367M821.5 370V373M821.5 376V379M821.5 382V385M821.5 388V391M821.5 394V397M821.5 400V403M821.5 406V409M821.5 412V415M821.5 418V421M821.5 424V427M821.5 430V433M821.5 436V439M821.5 442V445M821.5 448V451M821.5 454V457M821.5 460V463M821.5 466V469M821.5 472V475M821.5 478V481M821.5 484V487M821.5 490V493M821.5 496V499M821.5 502V505M821.5 508V511M821.5 514V517M821.5 520V523M821.5 526V529M821.5 532V535M821.5 538V541M821.5 544V547M821.5 550V553M821.5 556V559M821.5 562V565M821.5 568V571M821.5 574V577M821.5 580V583M821.5 586V589M821.5 592V595M821.5 598V601M821.5 604V607M821.5 610V613M821.5 616V619M821.5 622V625M821.5 628V631M821.5 634V637M821.5 640V643M821.5 646V649M821.5 652V655M821.5 658V661M821.5 664V667M821.5 670V673M821.5 676V679M821.5 682V685M869.5 5V7M869.5 10V13M869.5 16V19M869.5 22V25M869.5 28V31M869.5 34V37M869.5 40V43M869.5 46V49M869.5 52V55M869.5 58V61M869.5 64V67M869.5 70V73M869.5 76V79M869.5 82V85M869.5 88V91M869.5 94V97M869.5 100V103M869.5 106V109M869.5 112V115M869.5 118V121M869.5 124V127M869.5 130V133M869.5 136V139M869.5 142V145M869.5 148V151M869.5 154V157M869.5 160V163M869.5 166V169M869.5 172V175M869.5 178V181M869.5 184V187M869.5 190V193M869.5 196V199M869.5 202V205M869.5 208V211M869.5 214V217M869.5 220V223M869.5 226V229M869.5 232V235M869.5 238V241M869.5 244V247M869.5 250V253M869.5 256V259M869.5 262V265M869.5 268V271M869.5 274V277M869.5 280V283M869.5 286V289M869.5 292V295M869.5 298V301M869.5 304V307M869.5 310V313M869.5 316V319M869.5 322V325M869.5 328V331M869.5 334V337M869.5 340V343M869.5 346V349M869.5 352V355M869.5 358V361M869.5 364V367M869.5 370V373M869.5 376V379M869.5 382V385M869.5 388V391M869.5 394V397M869.5 400V403M869.5 406V409M869.5 412V415M869.5 418V421M869.5 424V427M869.5 430V433M869.5 436V439M869.5 442V445M869.5 448V451M869.5 454V457M869.5 460V463M869.5 466V469M869.5 472V475M869.5 478V481M869.5 484V487M869.5 490V493M869.5 496V499M869.5 502V505M869.5 508V511M869.5 514V517M869.5 520V523M869.5 526V529M869.5 532V535M869.5 538V541M869.5 544V547M869.5 550V553M869.5 556V559M869.5 562V565M869.5 568V571M869.5 574V577M869.5 580V583M869.5 586V589M869.5 592V595M869.5 598V601M869.5 604V607M869.5 610V613M869.5 616V619M869.5 622V625M869.5 628V631M869.5 634V637M869.5 640V643M869.5 646V649M869.5 652V655M869.5 658V661M869.5 664V667M869.5 670V673M869.5 676V679M869.5 682V685M917.5 5V7M917.5 10V13M917.5 16V19M917.5 22V25M917.5 28V31M917.5 34V37M917.5 40V43M917.5 46V49M917.5 52V55M917.5 58V61M917.5 64V67M917.5 70V73M917.5 76V79M917.5 82V85M917.5 88V91M917.5 94V97M917.5 100V103M917.5 106V109M917.5 112V115M917.5 118V121M917.5 124V127M917.5 130V133M917.5 136V139M917.5 142V145M917.5 148V151M917.5 154V157M917.5 160V163M917.5 166V169M917.5 172V175M917.5 178V181M917.5 184V187M917.5 190V193M917.5 196V199M917.5 202V205M917.5 208V211M917.5 214V217M917.5 220V223M917.5 226V229M917.5 232V235M917.5 238V241M917.5 244V247M917.5 250V253M917.5 256V259M917.5 262V265M917.5 268V271M917.5 274V277M917.5 280V283M917.5 286V289M917.5 292V295M917.5 298V301M917.5 304V307M917.5 310V313M917.5 316V319M917.5 322V325M917.5 328V331M917.5 334V337M917.5 340V343M917.5 346V349M917.5 352V355M917.5 358V361M917.5 364V367M917.5 370V373M917.5 376V379M917.5 382V385M917.5 388V391M917.5 394V397M917.5 400V403M917.5 406V409M917.5 412V415M917.5 418V421M917.5 424V427M917.5 430V433M917.5 436V439M917.5 442V445M917.5 448V451M917.5 454V457M917.5 460V463M917.5 466V469M917.5 472V475M917.5 478V481M917.5 484V487M917.5 490V493M917.5 496V499M917.5 502V505M917.5 508V511M917.5 514V517M917.5 520V523M917.5 526V529M917.5 532V535M917.5 538V541M917.5 544V547M917.5 550V553M917.5 556V559M917.5 562V565M917.5 568V571M917.5 574V577M917.5 580V583M917.5 586V589M917.5 592V595M917.5 598V601M917.5 604V607M917.5 610V613M917.5 616V619M917.5 622V625M917.5 628V631M917.5 634V637M917.5 640V643M917.5 646V649M917.5 652V655M917.5 658V661M917.5 664V667M917.5 670V673M917.5 676V679M917.5 682V685M965.5 5V7M965.5 10V13M965.5 16V19M965.5 22V25M965.5 28V31M965.5 34V37M965.5 40V43M965.5 46V49M965.5 52V55M965.5 58V61M965.5 64V67M965.5 70V73M965.5 76V79M965.5 82V85M965.5 88V91M965.5 94V97M965.5 100V103M965.5 106V109M965.5 112V115M965.5 118V121M965.5 124V127M965.5 130V133M965.5 136V139M965.5 142V145M965.5 148V151M965.5 154V157M965.5 160V163M965.5 166V169M965.5 172V175M965.5 178V181M965.5 184V187M965.5 190V193M965.5 196V199M965.5 202V205M965.5 208V211M965.5 214V217M965.5 220V223M965.5 226V229M965.5 232V235M965.5 238V241M965.5 244V247M965.5 250V253M965.5 256V259M965.5 262V265M965.5 268V271M965.5 274V277M965.5 280V283M965.5 286V289M965.5 292V295M965.5 298V301M965.5 304V307M965.5 310V313M965.5 316V319M965.5 322V325M965.5 328V331M965.5 334V337M965.5 340V343M965.5 346V349M965.5 352V355M965.5 358V361M965.5 364V367M965.5 370V373M965.5 376V379M965.5 382V385M965.5 388V391M965.5 394V397M965.5 400V403M965.5 406V409M965.5 412V415M965.5 418V421M965.5 424V427M965.5 430V433M965.5 436V439M965.5 442V445M965.5 448V451M965.5 454V457M965.5 460V463M965.5 466V469M965.5 472V475M965.5 478V481M965.5 484V487M965.5 490V493M965.5 496V499M965.5 502V505M965.5 508V511M965.5 514V517M965.5 520V523M965.5 526V529M965.5 532V535M965.5 538V541M965.5 544V547M965.5 550V553M965.5 556V559M965.5 562V565M965.5 568V571M965.5 574V577M965.5 580V583M965.5 586V589M965.5 592V595M965.5 598V601M965.5 604V607M965.5 610V613M965.5 616V619M965.5 622V625M965.5 628V631M965.5 634V637M965.5 640V643M965.5 646V649M965.5 652V655M965.5 658V661M965.5 664V667M965.5 670V673M965.5 676V679M965.5 682V685M1013.5 5V7M1013.5 10V13M1013.5 16V19M1013.5 22V25M1013.5 28V31M1013.5 34V37M1013.5 40V43M1013.5 46V49M1013.5 52V55M1013.5 58V61M1013.5 64V67M1013.5 70V73M1013.5 76V79M1013.5 82V85M1013.5 88V91M1013.5 94V97M1013.5 100V103M1013.5 106V109M1013.5 112V115M1013.5 118V121M1013.5 124V127M1013.5 130V133M1013.5 136V139M1013.5 142V145M1013.5 148V151M1013.5 154V157M1013.5 160V163M1013.5 166V169M1013.5 172V175M1013.5 178V181M1013.5 184V187M1013.5 190V193M1013.5 196V199M1013.5 202V205M1013.5 208V211M1013.5 214V217M1013.5 220V223M1013.5 226V229M1013.5 232V235M1013.5 238V241M1013.5 244V247M1013.5 250V253M1013.5 256V259M1013.5 262V265M1013.5 268V271M1013.5 274V277M1013.5 280V283M1013.5 286V289M1013.5 292V295M1013.5 298V301M1013.5 304V307M1013.5 310V313M1013.5 316V319M1013.5 322V325M1013.5 328V331M1013.5 334V337M1013.5 340V343M1013.5 346V349M1013.5 352V355M1013.5 358V361M1013.5 364V367M1013.5 370V373M1013.5 376V379M1013.5 382V385M1013.5 388V391M1013.5 394V397M1013.5 400V403M1013.5 406V409M1013.5 412V415M1013.5 418V421M1013.5 424V427M1013.5 430V433M1013.5 436V439M1013.5 442V445M1013.5 448V451M1013.5 454V457M1013.5 460V463M1013.5 466V469M1013.5 472V475M1013.5 478V481M1013.5 484V487M1013.5 490V493M1013.5 496V499M1013.5 502V505M1013.5 508V511M1013.5 514V517M1013.5 520V523M1013.5 526V529M1013.5 532V535M1013.5 538V541M1013.5 544V547M1013.5 550V553M1013.5 556V559M1013.5 562V565M1013.5 568V571M1013.5 574V577M1013.5 580V583M1013.5 586V589M1013.5 592V595M1013.5 598V601M1013.5 604V607M1013.5 610V613M1013.5 616V619M1013.5 622V625M1013.5 628V631M1013.5 634V637M1013.5 640V643M1013.5 646V649M1013.5 652V655M1013.5 658V661M1013.5 664V667M1013.5 670V673M1013.5 676V679M1013.5 682V685M1061.5 5V7M1061.5 10V13M1061.5 16V19M1061.5 22V25M1061.5 28V31M1061.5 34V37M1061.5 40V43M1061.5 46V49M1061.5 52V55M1061.5 58V61M1061.5 64V67M1061.5 70V73M1061.5 76V79M1061.5 82V85M1061.5 88V91M1061.5 94V97M1061.5 100V103M1061.5 106V109M1061.5 112V115M1061.5 118V121M1061.5 124V127M1061.5 130V133M1061.5 136V139M1061.5 142V145M1061.5 148V151M1061.5 154V157M1061.5 160V163M1061.5 166V169M1061.5 172V175M1061.5 178V181M1061.5 184V187M1061.5 190V193M1061.5 196V199M1061.5 202V205M1061.5 208V211M1061.5 214V217M1061.5 220V223M1061.5 226V229M1061.5 232V235M1061.5 238V241M1061.5 244V247M1061.5 250V253M1061.5 256V259M1061.5 262V265M1061.5 268V271M1061.5 274V277M1061.5 280V283M1061.5 286V289M1061.5 292V295M1061.5 298V301M1061.5 304V307M1061.5 310V313M1061.5 316V319M1061.5 322V325M1061.5 328V331M1061.5 334V337M1061.5 340V343M1061.5 346V349M1061.5 352V355M1061.5 358V361M1061.5 364V367M1061.5 370V373M1061.5 376V379M1061.5 382V385M1061.5 388V391M1061.5 394V397M1061.5 400V403M1061.5 406V409M1061.5 412V415M1061.5 418V421M1061.5 424V427M1061.5 430V433M1061.5 436V439M1061.5 442V445M1061.5 448V451M1061.5 454V457M1061.5 460V463M1061.5 466V469M1061.5 472V475M1061.5 478V481M1061.5 484V487M1061.5 490V493M1061.5 496V499M1061.5 502V505M1061.5 508V511M1061.5 514V517M1061.5 520V523M1061.5 526V529M1061.5 532V535M1061.5 538V541M1061.5 544V547M1061.5 550V553M1061.5 556V559M1061.5 562V565M1061.5 568V571M1061.5 574V577M1061.5 580V583M1061.5 586V589M1061.5 592V595M1061.5 598V601M1061.5 604V607M1061.5 610V613M1061.5 616V619M1061.5 622V625M1061.5 628V631M1061.5 634V637M1061.5 640V643M1061.5 646V649M1061.5 652V655M1061.5 658V661M1061.5 664V667M1061.5 670V673M1061.5 676V679M1061.5 682V685M1109.5 5V7M1109.5 10V13M1109.5 16V19M1109.5 22V25M1109.5 28V31M1109.5 34V37M1109.5 40V43M1109.5 46V49M1109.5 52V55M1109.5 58V61M1109.5 64V67M1109.5 70V73M1109.5 76V79M1109.5 82V85M1109.5 88V91M1109.5 94V97M1109.5 100V103M1109.5 106V109M1109.5 112V115M1109.5 118V121M1109.5 124V127M1109.5 130V133M1109.5 136V139M1109.5 142V145M1109.5 148V151M1109.5 154V157M1109.5 160V163M1109.5 166V169M1109.5 172V175M1109.5 178V181M1109.5 184V187M1109.5 190V193M1109.5 196V199M1109.5 202V205M1109.5 208V211M1109.5 214V217M1109.5 220V223M1109.5 226V229M1109.5 232V235M1109.5 238V241M1109.5 244V247M1109.5 250V253M1109.5 256V259M1109.5 262V265M1109.5 268V271M1109.5 274V277M1109.5 280V283M1109.5 286V289M1109.5 292V295M1109.5 298V301M1109.5 304V307M1109.5 310V313M1109.5 316V319M1109.5 322V325M1109.5 328V331M1109.5 334V337M1109.5 340V343M1109.5 346V349M1109.5 352V355M1109.5 358V361M1109.5 364V367M1109.5 370V373M1109.5 376V379M1109.5 382V385M1109.5 388V391M1109.5 394V397M1109.5 400V403M1109.5 406V409M1109.5 412V415M1109.5 418V421M1109.5 424V427M1109.5 430V433M1109.5 436V439M1109.5 442V445M1109.5 448V451M1109.5 454V457M1109.5 460V463M1109.5 466V469M1109.5 472V475M1109.5 478V481M1109.5 484V487M1109.5 490V493M1109.5 496V499M1109.5 502V505M1109.5 508V511M1109.5 514V517M1109.5 520V523M1109.5 526V529M1109.5 532V535M1109.5 538V541M1109.5 544V547M1109.5 550V553M1109.5 556V559M1109.5 562V565M1109.5 568V571M1109.5 574V577M1109.5 580V583M1109.5 586V589M1109.5 592V595M1109.5 598V601M1109.5 604V607M1109.5 610V613M1109.5 616V619M1109.5 622V625M1109.5 628V631M1109.5 634V637M1109.5 640V643M1109.5 646V649M1109.5 652V655M1109.5 658V661M1109.5 664V667M1109.5 670V673M1109.5 676V679M1109.5 682V685M1157.5 5V7M1157.5 10V13M1157.5 16V19M1157.5 22V25M1157.5 28V31M1157.5 34V37M1157.5 40V43M1157.5 46V49M1157.5 52V55M1157.5 58V61M1157.5 64V67M1157.5 70V73M1157.5 76V79M1157.5 82V85M1157.5 88V91M1157.5 94V97M1157.5 100V103M1157.5 106V109M1157.5 112V115M1157.5 118V121M1157.5 124V127M1157.5 130V133M1157.5 136V139M1157.5 142V145M1157.5 148V151M1157.5 154V157M1157.5 160V163M1157.5 166V169M1157.5 172V175M1157.5 178V181M1157.5 184V187M1157.5 190V193M1157.5 196V199M1157.5 202V205M1157.5 208V211M1157.5 214V217M1157.5 220V223M1157.5 226V229M1157.5 232V235M1157.5 238V241M1157.5 244V247M1157.5 250V253M1157.5 256V259M1157.5 262V265M1157.5 268V271M1157.5 274V277M1157.5 280V283M1157.5 286V289M1157.5 292V295M1157.5 298V301M1157.5 304V307M1157.5 310V313M1157.5 316V319M1157.5 322V325M1157.5 328V331M1157.5 334V337M1157.5 340V343M1157.5 346V349M1157.5 352V355M1157.5 358V361M1157.5 364V367M1157.5 370V373M1157.5 376V379M1157.5 382V385M1157.5 388V391M1157.5 394V397M1157.5 400V403M1157.5 406V409M1157.5 412V415M1157.5 418V421M1157.5 424V427M1157.5 430V433M1157.5 436V439M1157.5 442V445M1157.5 448V451M1157.5 454V457M1157.5 460V463M1157.5 466V469M1157.5 472V475M1157.5 478V481M1157.5 484V487M1157.5 490V493M1157.5 496V499M1157.5 502V505M1157.5 508V511M1157.5 514V517M1157.5 520V523M1157.5 526V529M1157.5 532V535M1157.5 538V541M1157.5 544V547M1157.5 550V553M1157.5 556V559M1157.5 562V565M1157.5 568V571M1157.5 574V577M1157.5 580V583M1157.5 586V589M1157.5 592V595M1157.5 598V601M1157.5 604V607M1157.5 610V613M1157.5 616V619M1157.5 622V625M1157.5 628V631M1157.5 634V637M1157.5 640V643M1157.5 646V649M1157.5 652V655M1157.5 658V661M1157.5 664V667M1157.5 670V673M1157.5 676V679M1157.5 682V685M1205.5 5V7M1205.5 10V13M1205.5 16V19M1205.5 22V25M1205.5 28V31M1205.5 34V37M1205.5 40V43M1205.5 46V49M1205.5 52V55M1205.5 58V61M1205.5 64V67M1205.5 70V73M1205.5 76V79M1205.5 82V85M1205.5 88V91M1205.5 94V97M1205.5 100V103M1205.5 106V109M1205.5 112V115M1205.5 118V121M1205.5 124V127M1205.5 130V133M1205.5 136V139M1205.5 142V145M1205.5 148V151M1205.5 154V157M1205.5 160V163M1205.5 166V169M1205.5 172V175M1205.5 178V181M1205.5 184V187M1205.5 190V193M1205.5 196V199M1205.5 202V205M1205.5 208V211M1205.5 214V217M1205.5 220V223M1205.5 226V229M1205.5 232V235M1205.5 238V241M1205.5 244V247M1205.5 250V253M1205.5 256V259M1205.5 262V265M1205.5 268V271M1205.5 274V277M1205.5 280V283M1205.5 286V289M1205.5 292V295M1205.5 298V301M1205.5 304V307M1205.5 310V313M1205.5 316V319M1205.5 322V325M1205.5 328V331M1205.5 334V337M1205.5 340V343M1205.5 346V349M1205.5 352V355M1205.5 358V361M1205.5 364V367M1205.5 370V373M1205.5 376V379M1205.5 382V385M1205.5 388V391M1205.5 394V397M1205.5 400V403M1205.5 406V409M1205.5 412V415M1205.5 418V421M1205.5 424V427M1205.5 430V433M1205.5 436V439M1205.5 442V445M1205.5 448V451M1205.5 454V457M1205.5 460V463M1205.5 466V469M1205.5 472V475M1205.5 478V481M1205.5 484V487M1205.5 490V493M1205.5 496V499M1205.5 502V505M1205.5 508V511M1205.5 514V517M1205.5 520V523M1205.5 526V529M1205.5 532V535M1205.5 538V541M1205.5 544V547M1205.5 550V553M1205.5 556V559M1205.5 562V565M1205.5 568V571M1205.5 574V577M1205.5 580V583M1205.5 586V589M1205.5 592V595M1205.5 598V601M1205.5 604V607M1205.5 610V613M1205.5 616V619M1205.5 622V625M1205.5 628V631M1205.5 634V637M1205.5 640V643M1205.5 646V649M1205.5 652V655M1205.5 658V661M1205.5 664V667M1205.5 670V673M1205.5 676V679M1205.5 682V685M1253.5 5V7M1253.5 10V13M1253.5 16V19M1253.5 22V25M1253.5 28V31M1253.5 34V37M1253.5 40V43M1253.5 46V49M1253.5 52V55M1253.5 58V61M1253.5 64V67M1253.5 70V73M1253.5 76V79M1253.5 82V85M1253.5 88V91M1253.5 94V97M1253.5 100V103M1253.5 106V109M1253.5 112V115M1253.5 118V121M1253.5 124V127M1253.5 130V133M1253.5 136V139M1253.5 142V145M1253.5 148V151M1253.5 154V157M1253.5 160V163M1253.5 166V169M1253.5 172V175M1253.5 178V181M1253.5 184V187M1253.5 190V193M1253.5 196V199M1253.5 202V205M1253.5 208V211M1253.5 214V217M1253.5 220V223M1253.5 226V229M1253.5 232V235M1253.5 238V241M1253.5 244V247M1253.5 250V253M1253.5 256V259M1253.5 262V265M1253.5 268V271M1253.5 274V277M1253.5 280V283M1253.5 286V289M1253.5 292V295M1253.5 298V301M1253.5 304V307M1253.5 310V313M1253.5 316V319M1253.5 322V325M1253.5 328V331M1253.5 334V337M1253.5 340V343M1253.5 346V349M1253.5 352V355M1253.5 358V361M1253.5 364V367M1253.5 370V373M1253.5 376V379M1253.5 382V385M1253.5 388V391M1253.5 394V397M1253.5 400V403M1253.5 406V409M1253.5 412V415M1253.5 418V421M1253.5 424V427M1253.5 430V433M1253.5 436V439M1253.5 442V445M1253.5 448V451M1253.5 454V457M1253.5 460V463M1253.5 466V469M1253.5 472V475M1253.5 478V481M1253.5 484V487M1253.5 490V493M1253.5 496V499M1253.5 502V505M1253.5 508V511M1253.5 514V517M1253.5 520V523M1253.5 526V529M1253.5 532V535M1253.5 538V541M1253.5 544V547M1253.5 550V553M1253.5 556V559M1253.5 562V565M1253.5 568V571M1253.5 574V577M1253.5 580V583M1253.5 586V589M1253.5 592V595M1253.5 598V601M1253.5 604V607M1253.5 610V613M1253.5 616V619M1253.5 622V625M1253.5 628V631M1253.5 634V637M1253.5 640V643M1253.5 646V649M1253.5 652V655M1253.5 658V661M1253.5 664V667M1253.5 670V673M1253.5 676V679M1253.5 682V685M1301.5 5V7M1301.5 10V13M1301.5 16V19M1301.5 22V25M1301.5 28V31M1301.5 34V37M1301.5 40V43M1301.5 46V49M1301.5 52V55M1301.5 58V61M1301.5 64V67M1301.5 70V73M1301.5 76V79M1301.5 82V85M1301.5 88V91M1301.5 94V97M1301.5 100V103M1301.5 106V109M1301.5 112V115M1301.5 118V121M1301.5 124V127M1301.5 130V133M1301.5 136V139M1301.5 142V145M1301.5 148V151M1301.5 154V157M1301.5 160V163M1301.5 166V169M1301.5 172V175M1301.5 178V181M1301.5 184V187M1301.5 190V193M1301.5 196V199M1301.5 202V205M1301.5 208V211M1301.5 214V217M1301.5 220V223M1301.5 226V229M1301.5 232V235M1301.5 238V241M1301.5 244V247M1301.5 250V253M1301.5 256V259M1301.5 262V265M1301.5 268V271M1301.5 274V277M1301.5 280V283M1301.5 286V289M1301.5 292V295M1301.5 298V301M1301.5 304V307M1301.5 310V313M1301.5 316V319M1301.5 322V325M1301.5 328V331M1301.5 334V337M1301.5 340V343M1301.5 346V349M1301.5 352V355M1301.5 358V361M1301.5 364V367M1301.5 370V373M1301.5 376V379M1301.5 382V385M1301.5 388V391M1301.5 394V397M1301.5 400V403M1301.5 406V409M1301.5 412V415M1301.5 418V421M1301.5 424V427M1301.5 430V433M1301.5 436V439M1301.5 442V445M1301.5 448V451M1301.5 454V457M1301.5 460V463M1301.5 466V469M1301.5 472V475M1301.5 478V481M1301.5 484V487M1301.5 490V493M1301.5 496V499M1301.5 502V505M1301.5 508V511M1301.5 514V517M1301.5 520V523M1301.5 526V529M1301.5 532V535M1301.5 538V541M1301.5 544V547M1301.5 550V553M1301.5 556V559M1301.5 562V565M1301.5 568V571M1301.5 574V577M1301.5 580V583M1301.5 586V589M1301.5 592V595M1301.5 598V601M1301.5 604V607M1301.5 610V613M1301.5 616V619M1301.5 622V625M1301.5 628V631M1301.5 634V637M1301.5 640V643M1301.5 646V649M1301.5 652V655M1301.5 658V661M1301.5 664V667M1301.5 670V673M1301.5 676V679M1301.5 682V685M1349.5 5V7M1349.5 10V13M1349.5 16V19M1349.5 22V25M1349.5 28V31M1349.5 34V37M1349.5 40V43M1349.5 46V49M1349.5 52V55M1349.5 58V61M1349.5 64V67M1349.5 70V73M1349.5 76V79M1349.5 82V85M1349.5 88V91M1349.5 94V97M1349.5 100V103M1349.5 106V109M1349.5 112V115M1349.5 118V121M1349.5 124V127M1349.5 130V133M1349.5 136V139M1349.5 142V145M1349.5 148V151M1349.5 154V157M1349.5 160V163M1349.5 166V169M1349.5 172V175M1349.5 178V181M1349.5 184V187M1349.5 190V193M1349.5 196V199M1349.5 202V205M1349.5 208V211M1349.5 214V217M1349.5 220V223M1349.5 226V229M1349.5 232V235M1349.5 238V241M1349.5 244V247M1349.5 250V253M1349.5 256V259M1349.5 262V265M1349.5 268V271M1349.5 274V277M1349.5 280V283M1349.5 286V289M1349.5 292V295M1349.5 298V301M1349.5 304V307M1349.5 310V313M1349.5 316V319M1349.5 322V325M1349.5 328V331M1349.5 334V337M1349.5 340V343M1349.5 346V349M1349.5 352V355M1349.5 358V361M1349.5 364V367M1349.5 370V373M1349.5 376V379M1349.5 382V385M1349.5 388V391M1349.5 394V397M1349.5 400V403M1349.5 406V409M1349.5 412V415M1349.5 418V421M1349.5 424V427M1349.5 430V433M1349.5 436V439M1349.5 442V445M1349.5 448V451M1349.5 454V457M1349.5 460V463M1349.5 466V469M1349.5 472V475M1349.5 478V481M1349.5 484V487M1349.5 490V493M1349.5 496V499M1349.5 502V505M1349.5 508V511M1349.5 514V517M1349.5 520V523M1349.5 526V529M1349.5 532V535M1349.5 538V541M1349.5 544V547M1349.5 550V553M1349.5 556V559M1349.5 562V565M1349.5 568V571M1349.5 574V577M1349.5 580V583M1349.5 586V589M1349.5 592V595M1349.5 598V601M1349.5 604V607M1349.5 610V613M1349.5 616V619M1349.5 622V625M1349.5 628V631M1349.5 634V637M1349.5 640V643M1349.5 646V649M1349.5 652V655M1349.5 658V661M1349.5 664V667M1349.5 670V673M1349.5 676V679M1349.5 682V685M1397.5 5V7M1397.5 10V13M1397.5 16V19M1397.5 22V25M1397.5 28V31M1397.5 34V37M1397.5 40V43M1397.5 46V49M1397.5 52V55M1397.5 58V61M1397.5 64V67M1397.5 70V73M1397.5 76V79M1397.5 82V85M1397.5 88V91M1397.5 94V97M1397.5 100V103M1397.5 106V109M1397.5 112V115M1397.5 118V121M1397.5 124V127M1397.5 130V133M1397.5 136V139M1397.5 142V145M1397.5 148V151M1397.5 154V157M1397.5 160V163M1397.5 166V169M1397.5 172V175M1397.5 178V181M1397.5 184V187M1397.5 190V193M1397.5 196V199M1397.5 202V205M1397.5 208V211M1397.5 214V217M1397.5 220V223M1397.5 226V229M1397.5 232V235M1397.5 238V241M1397.5 244V247M1397.5 250V253M1397.5 256V259M1397.5 262V265M1397.5 268V271M1397.5 274V277M1397.5 280V283M1397.5 286V289M1397.5 292V295M1397.5 298V301M1397.5 304V307M1397.5 310V313M1397.5 316V319M1397.5 322V325M1397.5 328V331M1397.5 334V337M1397.5 340V343M1397.5 346V349M1397.5 352V355M1397.5 358V361M1397.5 364V367M1397.5 370V373M1397.5 376V379M1397.5 382V385M1397.5 388V391M1397.5 394V397M1397.5 400V403M1397.5 406V409M1397.5 412V415M1397.5 418V421M1397.5 424V427M1397.5 430V433M1397.5 436V439M1397.5 442V445M1397.5 448V451M1397.5 454V457M1397.5 460V463M1397.5 466V469M1397.5 472V475M1397.5 478V481M1397.5 484V487M1397.5 490V493M1397.5 496V499M1397.5 502V505M1397.5 508V511M1397.5 514V517M1397.5 520V523M1397.5 526V529M1397.5 532V535M1397.5 538V541M1397.5 544V547M1397.5 550V553M1397.5 556V559M1397.5 562V565M1397.5 568V571M1397.5 574V577M1397.5 580V583M1397.5 586V589M1397.5 592V595M1397.5 598V601M1397.5 604V607M1397.5 610V613M1397.5 616V619M1397.5 622V625M1397.5 628V631M1397.5 634V637M1397.5 640V643M1397.5 646V649M1397.5 652V655M1397.5 658V661M1397.5 664V667M1397.5 670V673M1397.5 676V679M1397.5 682V685M1445.5 5V7M1445.5 10V13M1445.5 16V19M1445.5 22V25M1445.5 28V31M1445.5 34V37M1445.5 40V43M1445.5 46V49M1445.5 52V55M1445.5 58V61M1445.5 64V67M1445.5 70V73M1445.5 76V79M1445.5 82V85M1445.5 88V91M1445.5 94V97M1445.5 100V103M1445.5 106V109M1445.5 112V115M1445.5 118V121M1445.5 124V127M1445.5 130V133M1445.5 136V139M1445.5 142V145M1445.5 148V151M1445.5 154V157M1445.5 160V163M1445.5 166V169M1445.5 172V175M1445.5 178V181M1445.5 184V187M1445.5 190V193M1445.5 196V199M1445.5 202V205M1445.5 208V211M1445.5 214V217M1445.5 220V223M1445.5 226V229M1445.5 232V235M1445.5 238V241M1445.5 244V247M1445.5 250V253M1445.5 256V259M1445.5 262V265M1445.5 268V271M1445.5 274V277M1445.5 280V283M1445.5 286V289M1445.5 292V295M1445.5 298V301M1445.5 304V307M1445.5 310V313M1445.5 316V319M1445.5 322V325M1445.5 328V331M1445.5 334V337M1445.5 340V343M1445.5 346V349M1445.5 352V355M1445.5 358V361M1445.5 364V367M1445.5 370V373M1445.5 376V379M1445.5 382V385M1445.5 388V391M1445.5 394V397M1445.5 400V403M1445.5 406V409M1445.5 412V415M1445.5 418V421M1445.5 424V427M1445.5 430V433M1445.5 436V439M1445.5 442V445M1445.5 448V451M1445.5 454V457M1445.5 460V463M1445.5 466V469M1445.5 472V475M1445.5 478V481M1445.5 484V487M1445.5 490V493M1445.5 496V499M1445.5 502V505M1445.5 508V511M1445.5 514V517M1445.5 520V523M1445.5 526V529M1445.5 532V535M1445.5 538V541M1445.5 544V547M1445.5 550V553M1445.5 556V559M1445.5 562V565M1445.5 568V571M1445.5 574V577M1445.5 580V583M1445.5 586V589M1445.5 592V595M1445.5 598V601M1445.5 604V607M1445.5 610V613M1445.5 616V619M1445.5 622V625M1445.5 628V631M1445.5 634V637M1445.5 640V643M1445.5 646V649M1445.5 652V655M1445.5 658V661M1445.5 664V667M1445.5 670V673M1445.5 676V679M1445.5 682V685M1493.5 5V7M1493.5 10V13M1493.5 16V19M1493.5 22V25M1493.5 28V31M1493.5 34V37M1493.5 40V43M1493.5 46V49M1493.5 52V55M1493.5 58V61M1493.5 64V67M1493.5 70V73M1493.5 76V79M1493.5 82V85M1493.5 88V91M1493.5 94V97M1493.5 100V103M1493.5 106V109M1493.5 112V115M1493.5 118V121M1493.5 124V127M1493.5 130V133M1493.5 136V139M1493.5 142V145M1493.5 148V151M1493.5 154V157M1493.5 160V163M1493.5 166V169M1493.5 172V175M1493.5 178V181M1493.5 184V187M1493.5 190V193M1493.5 196V199M1493.5 202V205M1493.5 208V211M1493.5 214V217M1493.5 220V223M1493.5 226V229M1493.5 232V235M1493.5 238V241M1493.5 244V247M1493.5 250V253M1493.5 256V259M1493.5 262V265M1493.5 268V271M1493.5 274V277M1493.5 280V283M1493.5 286V289M1493.5 292V295M1493.5 298V301M1493.5 304V307M1493.5 310V313M1493.5 316V319M1493.5 322V325M1493.5 328V331M1493.5 334V337M1493.5 340V343M1493.5 346V349M1493.5 352V355M1493.5 358V361M1493.5 364V367M1493.5 370V373M1493.5 376V379M1493.5 382V385M1493.5 388V391M1493.5 394V397M1493.5 400V403M1493.5 406V409M1493.5 412V415M1493.5 418V421M1493.5 424V427M1493.5 430V433M1493.5 436V439M1493.5 442V445M1493.5 448V451M1493.5 454V457M1493.5 460V463M1493.5 466V469M1493.5 472V475M1493.5 478V481M1493.5 484V487M1493.5 490V493M1493.5 496V499M1493.5 502V505M1493.5 508V511M1493.5 514V517M1493.5 520V523M1493.5 526V529M1493.5 532V535M1493.5 538V541M1493.5 544V547M1493.5 550V553M1493.5 556V559M1493.5 562V565M1493.5 568V571M1493.5 574V577M1493.5 580V583M1493.5 586V589M1493.5 592V595M1493.5 598V601M1493.5 604V607M1493.5 610V613M1493.5 616V619M1493.5 622V625M1493.5 628V631M1493.5 634V637M1493.5 640V643M1493.5 646V649M1493.5 652V655M1493.5 658V661M1493.5 664V667M1493.5 670V673M1493.5 676V679M1493.5 682V685" stroke="#c0c0c0" stroke-width="1" fill="none"/>
<path d="M1222 5H1233L1227.5 11Z" fill="#c0c0c0"/>
<rect x="5" y="495" width="1530" height="1" fill="#c0c0c0"/>
<rect x="5" y="313" width="1530" height="1" fill="#ff0000"/>
<rect x="5" y="363" width="1530" height="1" fill="#ff0000"/>
<rect x="5" y="420" width="1530" height="1" fill="#ff0000"/>
<rect x="5" y="507" width="1530" height="1" fill="#ff0000"/>
<rect x="5" y="557" width="1530" height="1" fill="#ff0000"/>
<rect x="5" y="607" width="1530" height="1" fill="#ff0000"/>
<rect x="5" y="48" width="1" height="123" fill="#0000ff"/>
<rect x="5" y="110" width="3" height="51" fill="#0000ff"/>
<rect x="13" y="88" width="1" height="34" fill="#0000ff"/>
<rect x="11" y="92" width="5" height="19" fill="#0000ff"/>
<rect x="21" y="79" width="1" height="36" fill="#0000ff"/>
<rect x="19" y="81" width="5" height="13" fill="#0000ff"/>
<rect x="29" y="72" width="1" height="24" fill="#ff0000"/>
<rect x="27" y="81" width="5" height="8" fill="#ff0000"/>
<rect x="37" y="39" width="1" height="56" fill="#0000ff"/>
<rect x="35" y="57" width="5" height="31" fill="#0000ff"/>
<rect x="45" y="47" width="1" height="44" fill="#ff0000"/>
<rect x="43" y="56" width="5" height="34" fill="#ff0000"/>
<rect x="53" y="82" width="1" height="43" fill="#ff0000"/>
<rect x="51" y="88" width="5" height="28" fill="#ff0000"/>
<rect x="61" y="103" width="1" height="25" fill="#ff0000"/>
<rect x="59" y="116" width="5" height="7" fill="#ff0000"/>
<rect x="69" y="120" width="1" height="21" fill="#ff0000"/>
<rect x="67" y="123" width="5" height="17" fill="#ff0000"/>
<rect x="77" y="139" width="1" height="47" fill="#ff0000"/>
<rect x="75" y="139" width="5" height="38" fill="#ff0000"/>
<rect x="85" y="146" width="1" height="37" fill="#0000ff"/>
<rect x="83" y="156" width="5" height="21" fill="#0000ff"/>
<rect x="93" y="130" width="1" height="59" fill="#0000ff"/>
<rect x="91" y="140" width="5" height="17" fill="#0000ff"/>
<rect x="101" y="64" width="1" height="87" fill="#0000ff"/>
<rect x="99" y="102" width="5" height="42" fill="#0000ff"/>
<rect x="109" y="92" width="1" height="53" fill="#ff0000"/>
<rect x="107" y="102" width="5" height="26" fill="#ff0000"/>
<rect x="117" y="95" width="1" height="36" fill="#0000ff"/>
<rect x="115" y="96" width="5" height="32" fill="#0000ff"/>
<rect x="125" y="72" width="1" height="38" fill="#0000ff"/>
<rect x="123" y="87" width="5" height="10" fill="#0000ff"/>
<rect x="133" y="57" width="1" height="87" fill="#ff0000"/>
<rect x="131" y="87" width="5" height="50" fill="#ff0000"/>
<rect x="141" y="117" width="1" height="75" fill="#ff0000"/>
<rect x="139" y="136" width="5" height="48" fill="#ff0000"/>
<rect x="149" y="146" width="1" height="68" fill="#0000ff"/>
<rect x="147" y="157" width="5" height="27" fill="#0000ff"/>
<rect x="157" y="138" width="1" height="70" fill="#ff0000"/>
<rect x="155" y="157" width="5" height="28" fill="#ff0000"/>
<rect x="165" y="156" width="1" height="53" fill="#0000ff"/>
<rect x="163" y="169" width="5" height="16" fill="#0000ff"/>
<rect x="173" y="136" width="1" height="48" fill="#0000ff"/>
<rect x="171" y="156" width="5" height="14" fill="#0000ff"/>
<rect x="181" y="152" width="1" height="63" fill="#ff0000"/>
<rect x="179" y="156" width="5" height="43" fill="#ff0000"/>
<rect x="189" y="195" width="1" height="21" fill="#ff0000"/>
<rect x="187" y="197" width="5" height="2" fill="#ff0000"/>
<rect x="197" y="196" width="1" height="25" fill="#ff0000"/>
<rect x="195" y="198" width="5" height="17" fill="#ff0000"/>
<rect x="205" y="191" width="1" height="24" fill="#0000ff"/>
<rect x="203" y="207" width="5" height="8" fill="#0000ff"/>
<rect x="213" y="200" width="1" height="15" fill="#ff0000"/>
<rect x="211" y="207" width="5" height="4" fill="#ff0000"/>
<rect x="221" y="205" width="1" height="10" fill="#0000ff"/>
<rect x="219" y="207" width="5" height="4" fill="#0000ff"/>
<rect x="229" y="198" width="1" height="29" fill="#ff0000"/>
<rect x="227" y="206" width="5" height="8" fill="#ff0000"/>
<rect x="237" y="197" width="1" height="26" fill="#0000ff"/>
<rect x="235" y="208" width="5" height="8" fill="#0000ff"/>
<rect x="245" y="205" width="1" height="35" fill="#ff0000"/>
<rect x="243" y="208" width="5" height="25" fill="#ff0000"/>
<rect x="253" y="196" width="1" height="39" fill="#0000ff"/>
<rect x="251" y="200" width="5" height="33" fill="#0000ff"/>
<rect x="261" y="193" width="1" height="12" fill="#0000ff"/>
<rect x="259" y="199" width="5" height="2" fill="#0000ff"/>
<rect x="269" y="196" width="1" height="29" fill="#ff0000"/>
<rect x="267" y="199" width="5" height="26" fill="#ff0000"/>
<rect x="277" y="194" width="1" height="38" fill="#0000ff"/>
<rect x="275" y="199" width="5" height="26" fill="#0000ff"/>
<rect x="285" y="195" width="1" height="50" fill="#ff0000"/>
<rect x="283" y="199" width="5" height="38" fill="#ff0000"/>
<rect x="293" y="223" width="1" height="42" fill="#0000ff"/>
<rect x="291" y="228" width="5" height="9" fill="#0000ff"/>
<rect x="301" y="212" width="1" height="39" fill="#0000ff"/>
<rect x="299" y="223" width="5" height="6" fill="#0000ff"/>
<rect x="309" y="207" width="1" height="29" fill="#ff0000"/>
<rect x="307" y="224" width="5" height="3" fill="#ff0000"/>
<rect x="317" y="219" width="1" height="72" fill="#ff0000"/>
<rect x="315" y="226" width="5" height="62" fill="#ff0000"/>
<rect x="325" y="262" width="1" height="39" fill="#0000ff"/>
<rect x="323" y="277" width="5" height="11" fill="#0000ff"/>
<rect x="333" y="198" width="1" height="82" fill="#0000ff"/>
<rect x="331" y="219" width="5" height="59" fill="#0000ff"/>
<rect x="341" y="169" width="1" height="68" fill="#0000ff"/>
<rect x="339" y="208" width="5" height="13" fill="#0000ff"/>
<rect x="349" y="193" width="1" height="72" fill="#ff0000"/>
<rect x="347" y="208" width="5" height="24" fill="#ff0000"/>
<rect x="357" y="228" width="1" height="44" fill="#ff0000"/>
<rect x="355" y="232" width="5" height="33" fill="#ff0000"/>
<rect x="365" y="243" width="1" height="65" fill="#ff0000"/>
<rect x="363" y="265" width="5" height="40" fill="#ff0000"/>
<rect x="373" y="282" width="1" height="29" fill="#0000ff"/>
<rect x="371" y="285" width="5" height="20" fill="#0000ff"/>
<rect x="381" y="283" width="1" height="37" fill="#ff0000"/>
<rect x="379" y="285" width="5" height="32" fill="#ff0000"/>
<rect x="389" y="200" width="1" height="131" fill="#0000ff"/>
<rect x="387" y="295" width="5" height="23" fill="#0000ff"/>
<rect x="397" y="268" width="1" height="29" fill="#0000ff"/>
<rect x="395" y="273" width="5" height="24" fill="#0000ff"/>
<rect x="405" y="258" width="1" height="21" fill="#0000ff"/>
<rect x="403" y="264" width="5" height="10" fill="#0000ff"/>
<rect x="413" y="260" width="1" height="15" fill="#ff0000"/>
<rect x="411" y="265" width="5" height="7" fill="#ff0000"/>
<rect x="421" y="259" width="1" height="42" fill="#ff0000"/>
<rect x="419" y="270" width="5" height="3" fill="#ff0000"/>
<rect x="429" y="250" width="1" height="28" fill="#0000ff"/>
<rect x="427" y="253" width="5" height="20" fill="#0000ff"/>
<rect x="437" y="243" width="1" height="21" fill="#ff0000"/>
<rect x="435" y="252" width="5" height="3" fill="#ff0000"/>
<rect x="445" y="247" width="1" height="23" fill="#ff0000"/>
<rect x="443" y="254" width="5" height="3" fill="#ff0000"/>
<rect x="453" y="246" width="1" height="14" fill="#0000ff"/>
<rect x="451" y="251" width="5" height="6" fill="#0000ff"/>
<rect x="461" y="239" width="1" height="28" fill="#ff0000"/>
<rect x="459" y="251" width="5" height="9" fill="#ff0000"/>
<rect x="469" y="244" width="1" height="31" fill="#ff0000"/>
<rect x="467" y="259" width="5" height="12" fill="#ff0000"/>
<rect x="477" y="266" width="1" height="57" fill="#ff0000"/>
<rect x="475" y="269" width="5" height="51" fill="#ff0000"/>
<rect x="485" y="299" width="1" height="28" fill="#000000"/>
<rect x="483" y="316" width="5" height="1" fill="#000000"/>
<rect x="493" y="308" width="1" height="38" fill="#ff0000"/>
<rect x="491" y="317" width="5" height="17" fill="#ff0000"/>
<rect x="501" y="306" width="1" height="44" fill="#ff0000"/>
<rect x="499" y="333" width="5" height="14" fill="#ff0000"/>
<rect x="509" y="336" width="1" height="55" fill="#ff0000"/>
<rect x="507" y="345" width="5" height="42" fill="#ff0000"/>
<rect x="517" y="379" width="1" height="35" fill="#ff0000"/>
<rect x="515" y="385" width="5" height="5" fill="#ff0000"/>
<rect x="525" y="333" width="1" height="71" fill="#0000ff"/>
<rect x="523" y="356" width="5" height="34" fill="#0000ff"/>
<rect x="533" y="304" width="1" height="55" fill="#0000ff"/>
<rect x="531" y="320" width="5" height="37" fill="#0000ff"/>
<rect x="541" y="273" width="1" height="105" fill="#ff0000"/>
<rect x="539" y="321" width="5" height="50" fill="#ff0000"/>
<rect x="549" y="352" width="1" height="58" fill="#ff0000"/>
<rect x="547" y="370" width="5" height="34" fill="#ff0000"/>
<rect x="557" y="374" width="1" height="68" fill="#ff0000"/>
<rect x="555" y="403" width="5" height="22" fill="#ff0000"/>
<rect x="565" y="401" width="1" height="33" fill="#0000ff"/>
<rect x="563" y="416" width="5" height="9" fill="#0000ff"/>
<rect x="573" y="407" width="1" height="24" fill="#0000ff"/>
<rect x="571" y="413" width="5" height="4" fill="#0000ff"/>
<rect x="581" y="401" width="1" height="42" fill="#ff0000"/>
<rect x="579" y="412" width="5" height="31" fill="#ff0000"/>
<rect x="589" y="428" width="1" height="26" fill="#0000ff"/>
<rect x="587" y="438" width="5" height="15" fill="#0000ff"/>
<rect x="597" y="438" width="1" height="59" fill="#ff0000"/>
<rect x="595" y="439" width="5" height="54" fill="#ff0000"/>
<rect x="605" y="474" width="1" height="28" fill="#ff0000"/>
<rect x="603" y="492" width="5" height="1" fill="#ff0000"/>
<rect x="613" y="440" width="1" height="64" fill="#0000ff"/>
<rect x="611" y="459" width="5" height="34" fill="#0000ff"/>
<rect x="621" y="447" width="1" height="23" fill="#ff0000"/>
<rect x="619" y="459" width="5" height="5" fill="#ff0000"/>
<rect x="629" y="432" width="1" height="43" fill="#0000ff"/>
<rect x="627" y="444" width="5" height="20" fill="#0000ff"/>
<rect x="637" y="410" width="1" height="36" fill="#0000ff"/>
<rect x="635" y="413" width="5" height="31" fill="#0000ff"/>
<rect x="645" y="399" width="1" height="24" fill="#ff0000"/>
<rect x="643" y="413" width="5" height="10" fill="#ff0000"/>
<rect x="653" y="401" width="1" height="23" fill="#0000ff"/>
<rect x="651" y="412" width="5" height="11" fill="#0000ff"/>
<rect x="661" y="386" width="1" height="43" fill="#ff0000"/>
<rect x="659" y="411" width="5" height="14" fill="#ff0000"/>
<rect x="669" y="422" width="1" height="61" fill="#ff0000"/>
<rect x="667" y="424" width="5" height="50" fill="#ff0000"/>
<rect x="677" y="469" width="1" height="35" fill="#ff0000"/>
<rect x="675" y="474" width="5" height="25" fill="#ff0000"/>
<rect x="685" y="483" width="1" height="40" fill="#0000ff"/>
<rect x="683" y="493" width="5" height="6" fill="#0000ff"/>
<rect x="693" y="474" width="1" height="40" fill="#ff0000"/>
<rect x="691" y="493" width="5" height="18" fill="#ff0000"/>
<rect x="701" y="453" width="1" height="60" fill="#0000ff"/>
<rect x="699" y="505" width="5" height="5" fill="#0000ff"/>
<rect x="709" y="490" width="1" height="42" fill="#ff0000"/>
<rect x="707" y="505" width="5" height="8" fill="#ff0000"/>
<rect x="717" y="497" width="1" height="125" fill="#ff0000"/>
<rect x="715" y="512" width="5" height="100" fill="#ff0000"/>
<rect x="725" y="567" width="1" height="68" fill="#0000ff"/>
<rect x="723" y="579" width="5" height="33" fill="#0000ff"/>
<rect x="733" y="576" width="1" height="62" fill="#ff0000"/>
<rect x="731" y="579" width="5" height="21" fill="#ff0000"/>
<rect x="741" y="594" width="1" height="26" fill="#0000ff"/>
<rect x="739" y="598" width="5" height="2" fill="#0000ff"/>
<rect x="749" y="581" width="1" height="39" fill="#ff0000"/>
<rect x="747" y="598" width="5" height="12" fill="#ff0000"/>
<rect x="757" y="589" width="1" height="26" fill="#ff0000"/>
<rect x="755" y="609" width="5" height="2" fill="#ff0000"/>
<rect x="765" y="606" width="1" height="31" fill="#ff0000"/>
<rect x="763" y="610" width="5" height="1" fill="#ff0000"/>
<rect x="773" y="608" width="1" height="21" fill="#ff0000"/>
<rect x="771" y="610" width="5" height="7" fill="#ff0000"/>
<rect x="781" y="609" width="1" height="30" fill="#ff0000"/>
<rect x="779" y="615" width="5" height="6" fill="#ff0000"/>
<rect x="789" y="610" width="1" height="17" fill="#ff0000"/>
<rect x="787" y="620" width="5" height="6" fill="#ff0000"/>
<rect x="797" y="625" width="1" height="24" fill="#ff0000"/>
<rect x="795" y="625" width="5" height="17" fill="#ff0000"/>
<rect x="805" y="570" width="1" height="101" fill="#0000ff"/>
<rect x="803" y="576" width="5" height="65" fill="#0000ff"/>
<rect x="813" y="522" width="1" height="65" fill="#0000ff"/>
<rect x="811" y="555" width="5" height="22" fill="#0000ff"/>
<rect x="821" y="546" width="1" height="21" fill="#ff0000"/>
<rect x="819" y="554" width="5" height="3" fill="#ff0000"/>
<rect x="829" y="547" width="1" height="35" fill="#ff0000"/>
<rect x="827" y="556" width="5" height="21" fill="#ff0000"/>
<rect x="837" y="565" width="1" height="20" fill="#ff0000"/>
<rect x="835" y="576" width="5" height="8" fill="#ff0000"/>
<rect x="845" y="548" width="1" height="46" fill="#0000ff"/>
<rect x="843" y="572" width="5" height="11" fill="#0000ff"/>
<rect x="853" y="553" width="1" height="39" fill="#0000ff"/>
<rect x="851" y="564" width="5" height="6" fill="#0000ff"/>
<rect x="861" y="553" width="1" height="45" fill="#0000ff"/>
<rect x="859" y="563" width="5" height="2" fill="#0000ff"/>
<rect x="869" y="530" width="1" height="51" fill="#0000ff"/>
<rect x="867" y="547" width="5" height="16" fill="#0000ff"/>
<rect x="877" y="529" width="1" height="33" fill="#0000ff"/>
<rect x="875" y="544" width="5" height="4" fill="#0000ff"/>
<rect x="885" y="537" width="1" height="45" fill="#ff0000"/>
<rect x="883" y="544" width="5" height="34" fill="#ff0000"/>
<rect x="893" y="495" width="1" height="102" fill="#0000ff"/>
<rect x="891" y="495" width="5" height="82" fill="#0000ff"/>
<rect x="901" y="464" width="1" height="47" fill="#0000ff"/>
<rect x="899" y="491" width="5" height="5" fill="#0000ff"/>
<rect x="909" y="430" width="1" height="81" fill="#0000ff"/>
<rect x="907" y="436" width="5" height="56" fill="#0000ff"/>
<rect x="917" y="428" width="1" height="213" fill="#ff0000"/>
<rect x="915" y="435" width="5" height="168" fill="#ff0000"/>
<rect x="925" y="534" width="1" height="92" fill="#ff0000"/>
<rect x="923" y="602" width="5" height="12" fill="#ff0000"/>
<rect x="933" y="495" width="1" height="139" fill="#0000ff"/>
<rect x="931" y="540" width="5" height="74" fill="#0000ff"/>
<rect x="941" y="466" width="1" height="76" fill="#0000ff"/>
<rect x="939" y="507" width="5" height="34" fill="#0000ff"/>
<rect x="949" y="468" width="1" height="49" fill="#ff0000"/>
<rect x="947" y="506" width="5" height="7" fill="#ff0000"/>
<rect x="957" y="486" width="1" height="45" fill="#0000ff"/>
<rect x="955" y="496" width="5" height="17" fill="#0000ff"/>
<rect x="965" y="483" width="1" height="43" fill="#ff0000"/>
<rect x="963" y="496" width="5" height="30" fill="#ff0000"/>
<rect x="973" y="511" width="1" height="27" fill="#ff0000"/>
<rect x="971" y="529" width="5" height="4" fill="#ff0000"/>
<rect x="981" y="506" width="1" height="27" fill="#0000ff"/>
<rect x="979" y="507" width="5" height="25" fill="#0000ff"/>
<rect x="989" y="477" width="1" height="36" fill="#0000ff"/>
<rect x="987" y="480" width="5" height="28" fill="#0000ff"/>
<rect x="997" y="453" width="1" height="36" fill="#0000ff"/>
<rect x="995" y="472" width="5" height="8" fill="#0000ff"/>
<rect x="1005" y="469" width="1" height="65" fill="#ff0000"/>
<rect x="1003" y="471" width="5" height="36" fill="#ff0000"/>
<rect x="1013" y="476" width="1" height="33" fill="#0000ff"/>
<rect x="1011" y="485" width="5" height="22" fill="#0000ff"/>
<rect x="1021" y="484" width="1" height="22" fill="#ff0000"/>
<rect x="1019" y="485" width="5" height="16" fill="#ff0000"/>
<rect x="1029" y="476" width="1" height="27" fill="#0000ff"/>
<rect x="1027" y="477" width="5" height="24" fill="#0000ff"/>
<rect x="1037" y="425" width="1" height="58" fill="#0000ff"/>
<rect x="1035" y="446" width="5" height="32" fill="#0000ff"/>
<rect x="1045" y="363" width="1" height="89" fill="#0000ff"/>
<rect x="1043" y="375" width="5" height="73" fill="#0000ff"/>
<rect x="1053" y="366" width="1" height="67" fill="#ff0000"/>
<rect x="1051" y="374" width="5" height="53" fill="#ff0000"/>
<rect x="1061" y="344" width="1" height="93" fill="#0000ff"/>
<rect x="1059" y="372" width="5" height="55" fill="#0000ff"/>
<rect x="1069" y="356" width="1" height="46" fill="#0000ff"/>
<rect x="1067" y="364" width="5" height="9" fill="#0000ff"/>
<rect x="1077" y="304" width="1" height="62" fill="#0000ff"/>
<rect x="1075" y="344" width="5" height="21" fill="#0000ff"/>
<rect x="1085" y="290" width="1" height="62" fill="#0000ff"/>
<rect x="1083" y="301" width="5" height="44" fill="#0000ff"/>
<rect x="1093" y="287" width="1" height="74" fill="#ff0000"/>
<rect x="1091" y="301" width="5" height="36" fill="#ff0000"/>
<rect x="1101" y="290" width="1" height="76" fill="#0000ff"/>
<rect x="1099" y="313" width="5" height="23" fill="#0000ff"/>
<rect x="1109" y="266" width="1" height="77" fill="#0000ff"/>
<rect x="1107" y="269" width="5" height="45" fill="#0000ff"/>
<rect x="1117" y="260" width="1" height="51" fill="#ff0000"/>
<rect x="1115" y="272" width="5" height="10" fill="#ff0000"/>
<rect x="1125" y="258" width="1" height="60" fill="#0000ff"/>
<rect x="1123" y="262" width="5" height="20" fill="#0000ff"/>
<rect x="1133" y="241" width="1" height="75" fill="#ff0000"/>
<rect x="1131" y="261" width="5" height="47" fill="#ff0000"/>
<rect x="1141" y="306" width="1" height="58" fill="#ff0000"/>
<rect x="1139" y="307" width="5" height="40" fill="#ff0000"/>
<rect x="1149" y="332" width="1" height="34" fill="#ff0000"/>
<rect x="1147" y="346" width="5" height="4" fill="#ff0000"/>
<rect x="1157" y="333" width="1" height="17" fill="#0000ff"/>
<rect x="1155" y="335" width="5" height="15" fill="#0000ff"/>
<rect x="1165" y="331" width="1" height="42" fill="#0000ff"/>
<rect x="1163" y="344" width="5" height="15" fill="#0000ff"/>
<rect x="1173" y="328" width="1" height="16" fill="#0000ff"/>
<rect x="1171" y="337" width="5" height="7" fill="#0000ff"/>
<rect x="1181" y="327" width="1" height="23" fill="#ff0000"/>
<rect x="1179" y="337" width="5" height="10" fill="#ff0000"/>
<rect x="1189" y="316" width="1" height="40" fill="#0000ff"/>
<rect x="1187" y="322" width="5" height="24" fill="#0000ff"/>
<rect x="1197" y="303" width="1" height="167" fill="#ff0000"/>
<rect x="1195" y="322" width="5" height="130" fill="#ff0000"/>
<rect x="1205" y="430" width="1" height="52" fill="#ff0000"/>
<rect x="1203" y="451" width="5" height="20" fill="#ff0000"/>
<rect x="1213" y="466" width="1" height="31" fill="#ff0000"/>
<rect x="1211" y="471" width="5" height="25" fill="#ff0000"/>
</svg>
<rect x="0" y="0" width="1600" height="1" fill="#a0a0a0"/>
<rect x="0" y="0" width="1" height="712" fill="#a0a0a0"/>
<rect x="1" y="1" width="1598" height="1" fill="#696969"/>
<rect x="1" y="1" width="1" height="710" fill="#696969"/>
<rect x="1599" y="1" width="1" height="711" fill="#e3e3e3"/>
<rect x="1" y="711" width="1599" height="1" fill="#e3e3e3"/>
<rect x="4" y="4" width="1532" height="1" fill="#ff4500"/>
<rect x="4" y="687" width="1532" height="1" fill="#ff4500"/>
<rect x="4" y="4" width="1" height="684" fill="#ff4500"/>
<rect x="1535" y="4" width="1" height="684" fill="#ff4500"/>
<rect x="1536" y="29" width="2" height="1" fill="#ff4500"/>
<rect x="1536" y="78" width="2" height="1" fill="#ff4500"/>
<rect x="1536" y="128" width="2" height="1" fill="#ff4500"/>
<rect x="1536" y="177" width="2" height="1" fill="#ff4500"/>
<rect x="1536" y="226" width="2" height="1" fill="#ff4500"/>
<rect x="1536" y="275" width="2" height="1" fill="#ff4500"/>
<rect x="1536" y="324" width="2" height="1" fill="#ff4500"/>
<rect x="1536" y="374" width="2" height="1" fill="#ff4500"/>
<rect x="1536" y="423" width="2" height="1" fill="#ff4500"/>
<rect x="1536" y="472" width="2" height="1" fill="#ff4500"/>
<rect x="1536" y="521" width="2" height="1" fill="#ff4500"/>
<rect x="1536" y="570" width="2" height="1" fill="#ff4500"/>
<rect x="1536" y="619" width="2" height="1" fill="#ff4500"/>
<rect x="1536" y="668" width="2" height="1" fill="#ff4500"/>
<rect x="5" y="688" width="1" height="3" fill="#ff4500"/>
<rect x="101" y="688" width="1" height="3" fill="#ff4500"/>
<rect x="197" y="688" width="1" height="3" fill="#ff4500"/>
<rect x="293" y="688" width="1" height="3" fill="#ff4500"/>
<rect x="389" y="688" width="1" height="3" fill="#ff4500"/>
<rect x="485" y="688" width="1" height="3" fill="#ff4500"/>
<rect x="581" y="688" width="1" height="3" fill="#ff4500"/>
<rect x="677" y="688" width="1" height="3" fill="#ff4500"/>
<rect x="773" y="688" width="1" height="3" fill="#ff4500"/>
<rect x="869" y="688" width="1" height="3" fill="#ff4500"/>
<rect x="965" y="688" width="1" height="3" fill="#ff4500"/>
<rect x="1061" y="688" width="1" height="3" fill="#ff4500"/>
<rect x="1157" y="688" width="1" height="3" fill="#ff4500"/>
</g>
<g>
<text x="1542.5" y="34" fill="#ff4500" font-size="12.2" textLength="45.6" lengthAdjust="spacingAndGlyphs">1.34395</text>
<text x="1542.5" y="83" fill="#ff4500" font-size="12.2" textLength="45.6" lengthAdjust="spacingAndGlyphs">1.34180</text>
<text x="1542.5" y="133" fill="#ff4500" font-size="12.2" textLength="45.6" lengthAdjust="spacingAndGlyphs">1.33960</text>
<text x="1542.5" y="182" fill="#ff4500" font-size="12.2" textLength="45.6" lengthAdjust="spacingAndGlyphs">1.33745</text>
<text x="1542.5" y="231" fill="#ff4500" font-size="12.2" textLength="45.6" lengthAdjust="spacingAndGlyphs">1.33530</text>
<text x="1542.5" y="280" fill="#ff4500" font-size="12.2" textLength="45.6" lengthAdjust="spacingAndGlyphs">1.33315</text>
<text x="1542.5" y="329" fill="#ff4500" font-size="12.2" textLength="45.6" lengthAdjust="spacingAndGlyphs">1.33100</text>
<text x="1542.5" y="379" fill="#ff4500" font-size="12.2" textLength="45.6" lengthAdjust="spacingAndGlyphs">1.32880</text>
<text x="1542.5" y="428" fill="#ff4500" font-size="12.2" textLength="45.6" lengthAdjust="spacingAndGlyphs">1.32665</text>
<text x="1542.5" y="477" fill="#ff4500" font-size="12.2" textLength="45.6" lengthAdjust="spacingAndGlyphs">1.32450</text>
<text x="1542.5" y="526" fill="#ff4500" font-size="12.2" textLength="45.6" lengthAdjust="spacingAndGlyphs">1.32235</text>
<text x="1542.5" y="575" fill="#ff4500" font-size="12.2" textLength="45.6" lengthAdjust="spacingAndGlyphs">1.32020</text>
<text x="1542.5" y="624" fill="#ff4500" font-size="12.2" textLength="45.6" lengthAdjust="spacingAndGlyphs">1.31805</text>
<text x="1542.5" y="673" fill="#ff4500" font-size="12.2" textLength="45.6" lengthAdjust="spacingAndGlyphs">1.31590</text>
<rect x="1537" y="488" width="56" height="14" fill="#ff4500"/>
<text x="1542.5" y="500" fill="#ffffff" font-size="12.2" textLength="45.6" lengthAdjust="spacingAndGlyphs">1.32352</text>
<rect x="1537" y="307" width="56" height="14" fill="#ff0000"/>
<text x="1542.5" y="319" fill="#ffffff" font-size="12.2" textLength="45.6" lengthAdjust="spacingAndGlyphs">1.33150</text>
<rect x="1537" y="357" width="56" height="14" fill="#ff0000"/>
<text x="1542.5" y="369" fill="#ffffff" font-size="12.2" textLength="45.6" lengthAdjust="spacingAndGlyphs">1.32930</text>
<rect x="1537" y="414" width="56" height="14" fill="#ff0000"/>
<text x="1542.5" y="426" fill="#ffffff" font-size="12.2" textLength="45.6" lengthAdjust="spacingAndGlyphs">1.32680</text>
<rect x="1537" y="501" width="56" height="14" fill="#ff0000"/>
<text x="1542.5" y="513" fill="#ffffff" font-size="12.2" textLength="45.6" lengthAdjust="spacingAndGlyphs">1.32300</text>
<rect x="1537" y="551" width="56" height="14" fill="#ff0000"/>
<text x="1542.5" y="563" fill="#ffffff" font-size="12.2" textLength="45.6" lengthAdjust="spacingAndGlyphs">1.32080</text>
<rect x="1537" y="601" width="56" height="14" fill="#ff0000"/>
<text x="1542.5" y="613" fill="#ffffff" font-size="12.2" textLength="45.6" lengthAdjust="spacingAndGlyphs">1.31860</text>
<text x="4" y="703" fill="#ff4500" font-size="12.2">24 Mar 2026</text>
<text x="100" y="703" fill="#ff4500" font-size="12.2" textLength="72.8" lengthAdjust="spacingAndGlyphs">25 Mar 10:00</text>
<text x="196" y="703" fill="#ff4500" font-size="12.2" textLength="72.8" lengthAdjust="spacingAndGlyphs">25 Mar 22:00</text>
<text x="292" y="703" fill="#ff4500" font-size="12.2" textLength="72.8" lengthAdjust="spacingAndGlyphs">26 Mar 10:00</text>
<text x="388" y="703" fill="#ff4500" font-size="12.2" textLength="72.8" lengthAdjust="spacingAndGlyphs">26 Mar 22:00</text>
<text x="484" y="703" fill="#ff4500" font-size="12.2" textLength="72.8" lengthAdjust="spacingAndGlyphs">27 Mar 10:00</text>
<text x="580" y="703" fill="#ff4500" font-size="12.2" textLength="72.8" lengthAdjust="spacingAndGlyphs">27 Mar 22:00</text>
<text x="676" y="703" fill="#ff4500" font-size="12.2" textLength="72.8" lengthAdjust="spacingAndGlyphs">30 Mar 11:00</text>
<text x="772" y="703" fill="#ff4500" font-size="12.2" textLength="72.8" lengthAdjust="spacingAndGlyphs">30 Mar 23:00</text>
<text x="868" y="703" fill="#ff4500" font-size="12.2" textLength="72.8" lengthAdjust="spacingAndGlyphs">31 Mar 11:00</text>
<text x="964" y="703" fill="#ff4500" font-size="12.2" textLength="72.8" lengthAdjust="spacingAndGlyphs">31 Mar 23:00</text>
<text x="1059.6" y="703" fill="#ff4500" font-size="12.2" textLength="65.6" lengthAdjust="spacingAndGlyphs">1 Apr 11:00</text>
<text x="1155.6" y="703" fill="#ff4500" font-size="12.2" textLength="65.6" lengthAdjust="spacingAndGlyphs">1 Apr 23:00</text>
</g>
</svg>
</body></html>
